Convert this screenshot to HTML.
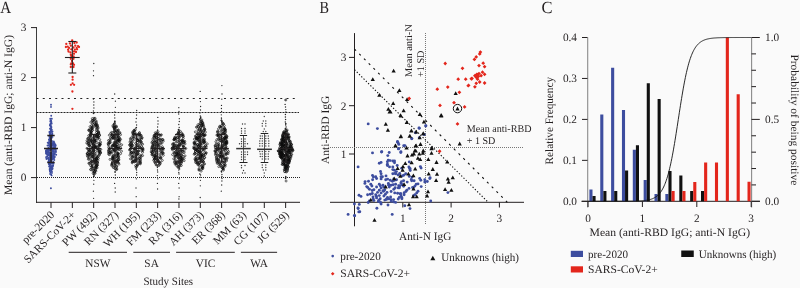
<!DOCTYPE html>
<html><head><meta charset="utf-8"><style>
html,body{margin:0;padding:0;background:#fafafa;width:800px;height:288px;overflow:hidden}
svg{display:block;will-change:transform}
text{font-family:"Liberation Serif",serif;text-rendering:geometricPrecision}
</style></head><body>
<svg width="800" height="288" viewBox="0 0 800 288">
<rect width="800" height="288" fill="#fafafa"/>
<text x="0.20" y="13.20" font-size="17" text-anchor="start" textLength="10.9" lengthAdjust="spacingAndGlyphs" fill="#231f20">A</text>
<line x1="36.50" y1="27.00" x2="36.50" y2="202.80" stroke="#3c3c3c" stroke-width="1.0"/>
<line x1="36.00" y1="202.30" x2="300.00" y2="202.30" stroke="#231f20" stroke-width="1.0"/>
<line x1="31.00" y1="177.60" x2="36.50" y2="177.60" stroke="#231f20" stroke-width="1.0"/>
<text x="26.50" y="181.40" font-size="11.3" text-anchor="end" fill="#231f20">0</text>
<line x1="31.00" y1="127.60" x2="36.50" y2="127.60" stroke="#231f20" stroke-width="1.0"/>
<text x="26.50" y="131.40" font-size="11.3" text-anchor="end" fill="#231f20">1</text>
<line x1="31.00" y1="77.60" x2="36.50" y2="77.60" stroke="#231f20" stroke-width="1.0"/>
<text x="26.50" y="81.40" font-size="11.3" text-anchor="end" fill="#231f20">2</text>
<line x1="31.00" y1="27.60" x2="36.50" y2="27.60" stroke="#231f20" stroke-width="1.0"/>
<text x="26.50" y="31.40" font-size="11.3" text-anchor="end" fill="#231f20">3</text>
<line x1="36.50" y1="98.50" x2="299.00" y2="98.50" stroke="#222" stroke-width="1.0" stroke-dasharray="2,4.25"/>
<line x1="36.50" y1="112.50" x2="299.00" y2="112.50" stroke="#222" stroke-width="1.0" stroke-dasharray="2,1"/>
<line x1="37.00" y1="177.50" x2="301.00" y2="177.50" stroke="#222" stroke-width="1.0" stroke-dasharray="1,1"/>
<line x1="51.00" y1="202.30" x2="51.00" y2="208.00" stroke="#231f20" stroke-width="1.0"/>
<line x1="72.33" y1="202.30" x2="72.33" y2="208.00" stroke="#231f20" stroke-width="1.0"/>
<line x1="93.66" y1="202.30" x2="93.66" y2="208.00" stroke="#231f20" stroke-width="1.0"/>
<line x1="114.99" y1="202.30" x2="114.99" y2="208.00" stroke="#231f20" stroke-width="1.0"/>
<line x1="136.32" y1="202.30" x2="136.32" y2="208.00" stroke="#231f20" stroke-width="1.0"/>
<line x1="157.65" y1="202.30" x2="157.65" y2="208.00" stroke="#231f20" stroke-width="1.0"/>
<line x1="178.98" y1="202.30" x2="178.98" y2="208.00" stroke="#231f20" stroke-width="1.0"/>
<line x1="200.31" y1="202.30" x2="200.31" y2="208.00" stroke="#231f20" stroke-width="1.0"/>
<line x1="221.64" y1="202.30" x2="221.64" y2="208.00" stroke="#231f20" stroke-width="1.0"/>
<line x1="242.97" y1="202.30" x2="242.97" y2="208.00" stroke="#231f20" stroke-width="1.0"/>
<line x1="264.30" y1="202.30" x2="264.30" y2="208.00" stroke="#231f20" stroke-width="1.0"/>
<line x1="285.63" y1="202.30" x2="285.63" y2="208.00" stroke="#231f20" stroke-width="1.0"/>
<text transform="translate(55.00,215.50) rotate(-45)" font-size="11.3" text-anchor="end" fill="#231f20">pre-2020</text>
<text transform="translate(76.33,215.50) rotate(-45)" font-size="11.3" text-anchor="end" fill="#231f20">SARS-CoV-2+</text>
<text transform="translate(97.66,215.50) rotate(-45)" font-size="11.3" text-anchor="end" fill="#231f20">PW (492)</text>
<text transform="translate(118.99,215.50) rotate(-45)" font-size="11.3" text-anchor="end" fill="#231f20">RN (327)</text>
<text transform="translate(140.32,215.50) rotate(-45)" font-size="11.3" text-anchor="end" fill="#231f20">WH (195)</text>
<text transform="translate(161.65,215.50) rotate(-45)" font-size="11.3" text-anchor="end" fill="#231f20">FM (233)</text>
<text transform="translate(182.98,215.50) rotate(-45)" font-size="11.3" text-anchor="end" fill="#231f20">RA (316)</text>
<text transform="translate(204.31,215.50) rotate(-45)" font-size="11.3" text-anchor="end" fill="#231f20">AH (373)</text>
<text transform="translate(225.64,215.50) rotate(-45)" font-size="11.3" text-anchor="end" fill="#231f20">ER (368)</text>
<text transform="translate(246.97,215.50) rotate(-45)" font-size="11.3" text-anchor="end" fill="#231f20">MM (63)</text>
<text transform="translate(268.30,215.50) rotate(-45)" font-size="11.3" text-anchor="end" fill="#231f20">CG (107)</text>
<text transform="translate(289.63,215.50) rotate(-45)" font-size="11.3" text-anchor="end" fill="#231f20">JG (529)</text>
<line x1="68.70" y1="252.30" x2="127.00" y2="252.30" stroke="#231f20" stroke-width="1.0"/>
<text x="97.90" y="266.70" font-size="11.3" text-anchor="middle" fill="#231f20">NSW</text>
<line x1="133.30" y1="252.30" x2="170.00" y2="252.30" stroke="#231f20" stroke-width="1.0"/>
<text x="151.60" y="266.70" font-size="11.3" text-anchor="middle" fill="#231f20">SA</text>
<line x1="176.10" y1="252.30" x2="234.80" y2="252.30" stroke="#231f20" stroke-width="1.0"/>
<text x="205.60" y="266.70" font-size="11.3" text-anchor="middle" fill="#231f20">VIC</text>
<line x1="240.90" y1="252.30" x2="277.10" y2="252.30" stroke="#231f20" stroke-width="1.0"/>
<text x="259.10" y="266.70" font-size="11.3" text-anchor="middle" fill="#231f20">WA</text>
<text x="168.30" y="284.50" font-size="11.3" text-anchor="middle" textLength="49.7" lengthAdjust="spacingAndGlyphs" fill="#231f20">Study Sites</text>
<text transform="translate(12.00,115.00) rotate(-90)" font-size="11.3" text-anchor="middle" textLength="160.0" lengthAdjust="spacingAndGlyphs" fill="#231f20">Mean (anti-RBD IgG; anti-N IgG)</text>
<g fill="#3d4d9f"><circle cx="50.6" cy="120.3" r="0.95"/><circle cx="51.0" cy="120.7" r="0.95"/><circle cx="51.0" cy="121.0" r="0.95"/><circle cx="50.3" cy="121.5" r="0.95"/><circle cx="51.5" cy="122.1" r="0.95"/><circle cx="51.2" cy="123.0" r="0.95"/><circle cx="50.8" cy="123.5" r="0.95"/><circle cx="51.7" cy="123.6" r="0.95"/><circle cx="50.2" cy="124.2" r="0.95"/><circle cx="50.3" cy="124.8" r="0.95"/><circle cx="50.7" cy="125.3" r="0.95"/><circle cx="49.9" cy="125.6" r="0.95"/><circle cx="50.8" cy="126.2" r="0.95"/><circle cx="50.9" cy="126.6" r="0.95"/><circle cx="51.5" cy="127.1" r="0.95"/><circle cx="51.1" cy="127.9" r="0.95"/><circle cx="50.4" cy="128.5" r="0.95"/><circle cx="50.8" cy="128.9" r="0.95"/><circle cx="50.0" cy="128.7" r="0.95"/><circle cx="51.5" cy="129.4" r="0.95"/><circle cx="51.2" cy="129.4" r="0.95"/><circle cx="51.6" cy="129.8" r="0.95"/><circle cx="50.9" cy="130.4" r="0.95"/><circle cx="50.9" cy="130.8" r="0.95"/><circle cx="51.6" cy="131.3" r="0.95"/><circle cx="52.5" cy="131.4" r="0.95"/><circle cx="50.6" cy="131.8" r="0.95"/><circle cx="49.5" cy="131.7" r="0.95"/><circle cx="49.8" cy="132.0" r="0.95"/><circle cx="51.9" cy="132.1" r="0.95"/><circle cx="50.6" cy="132.9" r="0.95"/><circle cx="49.6" cy="132.7" r="0.95"/><circle cx="52.3" cy="133.4" r="0.95"/><circle cx="50.3" cy="133.7" r="0.95"/><circle cx="52.3" cy="134.5" r="0.95"/><circle cx="49.8" cy="134.1" r="0.95"/><circle cx="50.1" cy="134.7" r="0.95"/><circle cx="51.3" cy="134.6" r="0.95"/><circle cx="50.7" cy="135.2" r="0.95"/><circle cx="51.2" cy="135.5" r="0.95"/><circle cx="51.1" cy="135.8" r="0.95"/><circle cx="49.3" cy="136.4" r="0.95"/><circle cx="52.4" cy="136.9" r="0.95"/><circle cx="50.6" cy="137.1" r="0.95"/><circle cx="51.5" cy="137.0" r="0.95"/><circle cx="49.9" cy="137.6" r="0.95"/><circle cx="50.4" cy="137.5" r="0.95"/><circle cx="49.6" cy="138.1" r="0.95"/><circle cx="50.5" cy="138.0" r="0.95"/><circle cx="51.5" cy="138.6" r="0.95"/><circle cx="50.3" cy="139.2" r="0.95"/><circle cx="49.3" cy="139.4" r="0.95"/><circle cx="50.8" cy="139.7" r="0.95"/><circle cx="49.0" cy="139.6" r="0.95"/><circle cx="49.8" cy="140.4" r="0.95"/><circle cx="49.2" cy="140.0" r="0.95"/><circle cx="51.2" cy="140.6" r="0.95"/><circle cx="51.2" cy="140.5" r="0.95"/><circle cx="53.8" cy="141.4" r="0.95"/><circle cx="52.1" cy="141.1" r="0.95"/><circle cx="49.0" cy="141.9" r="0.95"/><circle cx="51.2" cy="141.9" r="0.95"/><circle cx="50.0" cy="141.6" r="0.95"/><circle cx="54.1" cy="142.4" r="0.95"/><circle cx="53.0" cy="142.4" r="0.95"/><circle cx="49.1" cy="142.8" r="0.95"/><circle cx="50.0" cy="142.5" r="0.95"/><circle cx="47.7" cy="142.6" r="0.95"/><circle cx="52.5" cy="143.5" r="0.95"/><circle cx="50.6" cy="143.5" r="0.95"/><circle cx="54.7" cy="143.5" r="0.95"/><circle cx="48.7" cy="143.6" r="0.95"/><circle cx="48.5" cy="143.6" r="0.95"/><circle cx="52.0" cy="144.0" r="0.95"/><circle cx="53.8" cy="143.7" r="0.95"/><circle cx="53.6" cy="144.0" r="0.95"/><circle cx="52.4" cy="144.5" r="0.95"/><circle cx="53.5" cy="144.4" r="0.95"/><circle cx="50.8" cy="144.1" r="0.95"/><circle cx="49.4" cy="144.9" r="0.95"/><circle cx="55.4" cy="144.7" r="0.95"/><circle cx="50.1" cy="145.0" r="0.95"/><circle cx="53.1" cy="144.6" r="0.95"/><circle cx="47.5" cy="145.5" r="0.95"/><circle cx="54.1" cy="145.1" r="0.95"/><circle cx="54.3" cy="145.5" r="0.95"/><circle cx="52.6" cy="145.2" r="0.95"/><circle cx="51.5" cy="145.1" r="0.95"/><circle cx="55.7" cy="145.8" r="0.95"/><circle cx="51.3" cy="146.0" r="0.95"/><circle cx="50.3" cy="145.9" r="0.95"/><circle cx="54.2" cy="145.6" r="0.95"/><circle cx="48.5" cy="145.6" r="0.95"/><circle cx="51.9" cy="146.1" r="0.95"/><circle cx="50.2" cy="146.1" r="0.95"/><circle cx="55.1" cy="146.2" r="0.95"/><circle cx="50.6" cy="146.3" r="0.95"/><circle cx="50.2" cy="147.0" r="0.95"/><circle cx="51.0" cy="146.8" r="0.95"/><circle cx="51.2" cy="146.5" r="0.95"/><circle cx="50.4" cy="146.6" r="0.95"/><circle cx="53.9" cy="147.1" r="0.95"/><circle cx="50.7" cy="147.4" r="0.95"/><circle cx="51.6" cy="147.2" r="0.95"/><circle cx="51.2" cy="147.3" r="0.95"/><circle cx="53.8" cy="147.1" r="0.95"/><circle cx="48.5" cy="147.6" r="0.95"/><circle cx="53.7" cy="147.8" r="0.95"/><circle cx="51.6" cy="147.9" r="0.95"/><circle cx="55.0" cy="147.7" r="0.95"/><circle cx="51.1" cy="148.3" r="0.95"/><circle cx="52.9" cy="148.2" r="0.95"/><circle cx="51.3" cy="148.2" r="0.95"/><circle cx="55.3" cy="148.3" r="0.95"/><circle cx="55.3" cy="148.6" r="0.95"/><circle cx="51.6" cy="149.0" r="0.95"/><circle cx="54.3" cy="148.6" r="0.95"/><circle cx="47.3" cy="148.7" r="0.95"/><circle cx="48.5" cy="149.0" r="0.95"/><circle cx="52.6" cy="149.4" r="0.95"/><circle cx="54.8" cy="149.1" r="0.95"/><circle cx="53.1" cy="149.3" r="0.95"/><circle cx="47.6" cy="149.4" r="0.95"/><circle cx="48.2" cy="150.0" r="0.95"/><circle cx="50.0" cy="149.7" r="0.95"/><circle cx="55.9" cy="149.9" r="0.95"/><circle cx="47.6" cy="149.7" r="0.95"/><circle cx="49.3" cy="150.1" r="0.95"/><circle cx="49.1" cy="150.4" r="0.95"/><circle cx="46.1" cy="150.3" r="0.95"/><circle cx="50.4" cy="150.0" r="0.95"/><circle cx="52.3" cy="150.8" r="0.95"/><circle cx="46.4" cy="151.0" r="0.95"/><circle cx="54.1" cy="151.0" r="0.95"/><circle cx="46.8" cy="150.6" r="0.95"/><circle cx="46.1" cy="150.9" r="0.95"/><circle cx="46.9" cy="151.2" r="0.95"/><circle cx="55.5" cy="151.4" r="0.95"/><circle cx="48.4" cy="151.1" r="0.95"/><circle cx="55.6" cy="151.3" r="0.95"/><circle cx="53.2" cy="151.0" r="0.95"/><circle cx="53.1" cy="151.7" r="0.95"/><circle cx="46.2" cy="152.0" r="0.95"/><circle cx="52.5" cy="151.9" r="0.95"/><circle cx="46.3" cy="151.9" r="0.95"/><circle cx="46.1" cy="151.9" r="0.95"/><circle cx="49.1" cy="152.3" r="0.95"/><circle cx="55.9" cy="152.1" r="0.95"/><circle cx="46.7" cy="152.3" r="0.95"/><circle cx="48.0" cy="152.1" r="0.95"/><circle cx="47.1" cy="152.0" r="0.95"/><circle cx="48.8" cy="152.7" r="0.95"/><circle cx="54.0" cy="152.6" r="0.95"/><circle cx="51.0" cy="152.6" r="0.95"/><circle cx="49.2" cy="152.5" r="0.95"/><circle cx="48.1" cy="152.5" r="0.95"/><circle cx="51.6" cy="153.1" r="0.95"/><circle cx="50.7" cy="153.5" r="0.95"/><circle cx="46.5" cy="153.4" r="0.95"/><circle cx="50.2" cy="153.2" r="0.95"/><circle cx="54.8" cy="153.2" r="0.95"/><circle cx="53.1" cy="154.0" r="0.95"/><circle cx="49.2" cy="153.9" r="0.95"/><circle cx="53.3" cy="153.8" r="0.95"/><circle cx="49.9" cy="153.7" r="0.95"/><circle cx="46.0" cy="153.6" r="0.95"/><circle cx="53.7" cy="154.1" r="0.95"/><circle cx="47.2" cy="154.0" r="0.95"/><circle cx="54.8" cy="154.4" r="0.95"/><circle cx="52.9" cy="154.1" r="0.95"/><circle cx="48.1" cy="154.1" r="0.95"/><circle cx="47.2" cy="154.7" r="0.95"/><circle cx="48.4" cy="155.0" r="0.95"/><circle cx="56.2" cy="154.8" r="0.95"/><circle cx="48.2" cy="155.0" r="0.95"/><circle cx="48.9" cy="154.7" r="0.95"/><circle cx="49.7" cy="155.2" r="0.95"/><circle cx="51.0" cy="155.1" r="0.95"/><circle cx="51.1" cy="155.0" r="0.95"/><circle cx="48.4" cy="155.0" r="0.95"/><circle cx="49.9" cy="155.0" r="0.95"/><circle cx="48.9" cy="155.6" r="0.95"/><circle cx="51.9" cy="155.8" r="0.95"/><circle cx="53.7" cy="155.8" r="0.95"/><circle cx="53.4" cy="155.9" r="0.95"/><circle cx="49.8" cy="155.7" r="0.95"/><circle cx="47.2" cy="156.4" r="0.95"/><circle cx="52.5" cy="156.0" r="0.95"/><circle cx="54.6" cy="156.4" r="0.95"/><circle cx="52.4" cy="156.4" r="0.95"/><circle cx="47.1" cy="156.8" r="0.95"/><circle cx="51.0" cy="156.9" r="0.95"/><circle cx="54.3" cy="156.9" r="0.95"/><circle cx="51.9" cy="156.9" r="0.95"/><circle cx="53.0" cy="157.1" r="0.95"/><circle cx="46.0" cy="157.1" r="0.95"/><circle cx="49.5" cy="157.1" r="0.95"/><circle cx="54.6" cy="157.3" r="0.95"/><circle cx="52.3" cy="157.8" r="0.95"/><circle cx="50.9" cy="157.5" r="0.95"/><circle cx="54.1" cy="157.9" r="0.95"/><circle cx="51.0" cy="157.8" r="0.95"/><circle cx="46.5" cy="158.4" r="0.95"/><circle cx="48.4" cy="158.0" r="0.95"/><circle cx="48.6" cy="158.4" r="0.95"/><circle cx="47.9" cy="158.4" r="0.95"/><circle cx="50.9" cy="158.7" r="0.95"/><circle cx="50.8" cy="158.8" r="0.95"/><circle cx="53.6" cy="158.8" r="0.95"/><circle cx="52.4" cy="158.5" r="0.95"/><circle cx="48.8" cy="159.4" r="0.95"/><circle cx="49.3" cy="159.3" r="0.95"/><circle cx="46.6" cy="159.0" r="0.95"/><circle cx="48.9" cy="159.3" r="0.95"/><circle cx="52.4" cy="159.6" r="0.95"/><circle cx="51.1" cy="159.7" r="0.95"/><circle cx="50.7" cy="159.6" r="0.95"/><circle cx="48.8" cy="160.5" r="0.95"/><circle cx="54.3" cy="160.0" r="0.95"/><circle cx="50.7" cy="160.4" r="0.95"/><circle cx="50.7" cy="160.6" r="0.95"/><circle cx="49.0" cy="161.0" r="0.95"/><circle cx="51.5" cy="161.1" r="0.95"/><circle cx="51.1" cy="161.5" r="0.95"/><circle cx="48.8" cy="161.4" r="0.95"/><circle cx="53.2" cy="161.9" r="0.95"/><circle cx="49.4" cy="161.9" r="0.95"/><circle cx="48.3" cy="162.0" r="0.95"/><circle cx="51.0" cy="162.2" r="0.95"/><circle cx="49.1" cy="162.7" r="0.95"/><circle cx="50.0" cy="162.9" r="0.95"/><circle cx="52.3" cy="163.4" r="0.95"/><circle cx="49.0" cy="163.5" r="0.95"/><circle cx="52.1" cy="163.5" r="0.95"/><circle cx="50.4" cy="163.7" r="0.95"/><circle cx="53.5" cy="163.8" r="0.95"/><circle cx="50.7" cy="164.1" r="0.95"/><circle cx="48.8" cy="164.1" r="0.95"/><circle cx="50.0" cy="165.0" r="0.95"/><circle cx="49.8" cy="164.6" r="0.95"/><circle cx="49.6" cy="165.2" r="0.95"/><circle cx="53.1" cy="165.4" r="0.95"/><circle cx="51.6" cy="166.0" r="0.95"/><circle cx="52.9" cy="165.8" r="0.95"/><circle cx="49.1" cy="166.4" r="0.95"/><circle cx="50.8" cy="166.4" r="0.95"/><circle cx="50.1" cy="166.5" r="0.95"/><circle cx="52.7" cy="166.6" r="0.95"/><circle cx="50.4" cy="167.1" r="0.95"/><circle cx="51.9" cy="167.5" r="0.95"/><circle cx="51.6" cy="167.7" r="0.95"/><circle cx="51.2" cy="167.7" r="0.95"/><circle cx="49.8" cy="168.1" r="0.95"/><circle cx="52.5" cy="168.2" r="0.95"/><circle cx="52.4" cy="169.0" r="0.95"/><circle cx="50.8" cy="168.6" r="0.95"/><circle cx="49.7" cy="169.2" r="0.95"/><circle cx="49.7" cy="169.1" r="0.95"/><circle cx="51.2" cy="169.9" r="0.95"/><circle cx="51.8" cy="169.7" r="0.95"/><circle cx="51.1" cy="170.2" r="0.95"/><circle cx="49.8" cy="170.6" r="0.95"/><circle cx="50.0" cy="171.3" r="0.95"/><circle cx="51.9" cy="171.6" r="0.95"/><circle cx="50.4" cy="172.2" r="0.95"/><circle cx="51.9" cy="172.9" r="0.95"/><circle cx="50.1" cy="173.9" r="0.95"/><circle cx="51.1" cy="174.5" r="0.95"/><circle cx="51.6" cy="175.4" r="0.95"/><circle cx="51.0" cy="104.8" r="0.95"/><circle cx="51.0" cy="106.9" r="0.95"/><circle cx="51.2" cy="115.7" r="0.95"/><circle cx="50.2" cy="118.8" r="0.95"/><circle cx="51.8" cy="118.8" r="0.95"/><circle cx="51.0" cy="120.9" r="0.95"/><circle cx="50.9" cy="188.2" r="0.95"/></g>
<g fill="#e3261c"><circle cx="72.2" cy="40.3" r="1.15"/><circle cx="66.3" cy="43.9" r="1.15"/><circle cx="69.9" cy="43.4" r="1.15"/><circle cx="74.4" cy="43.0" r="1.15"/><circle cx="76.7" cy="42.5" r="1.15"/><circle cx="67.7" cy="46.6" r="1.15"/><circle cx="70.8" cy="45.7" r="1.15"/><circle cx="75.3" cy="45.7" r="1.15"/><circle cx="78.0" cy="46.1" r="1.15"/><circle cx="65.9" cy="47.0" r="1.15"/><circle cx="69.0" cy="47.9" r="1.15"/><circle cx="73.5" cy="47.5" r="1.15"/><circle cx="76.7" cy="47.9" r="1.15"/><circle cx="79.0" cy="47.0" r="1.15"/><circle cx="68.1" cy="49.7" r="1.15"/><circle cx="71.3" cy="49.3" r="1.15"/><circle cx="74.9" cy="49.7" r="1.15"/><circle cx="77.1" cy="49.3" r="1.15"/><circle cx="70.4" cy="52.4" r="1.15"/><circle cx="74.0" cy="51.5" r="1.15"/><circle cx="70.8" cy="54.7" r="1.15"/><circle cx="74.0" cy="53.8" r="1.15"/><circle cx="71.3" cy="56.0" r="1.15"/><circle cx="73.6" cy="56.5" r="1.15"/><circle cx="70.8" cy="58.8" r="1.15"/><circle cx="73.5" cy="58.8" r="1.15"/><circle cx="71.3" cy="63.3" r="1.15"/><circle cx="73.1" cy="63.3" r="1.15"/><circle cx="70.8" cy="64.3" r="1.15"/><circle cx="74.0" cy="64.8" r="1.15"/><circle cx="70.8" cy="67.0" r="1.15"/><circle cx="73.5" cy="67.0" r="1.15"/><circle cx="72.6" cy="77.0" r="1.15"/><circle cx="72.6" cy="79.7" r="1.15"/><circle cx="72.6" cy="83.3" r="1.15"/><circle cx="70.9" cy="84.8" r="1.15"/><circle cx="74.1" cy="84.8" r="1.15"/><circle cx="72.4" cy="91.5" r="1.15"/><circle cx="72.4" cy="108.8" r="1.15"/><circle cx="72.0" cy="61.0" r="1.15"/><circle cx="68.5" cy="51.5" r="1.15"/><circle cx="76.0" cy="52.0" r="1.15"/></g>
<line x1="51.00" y1="135.50" x2="51.00" y2="162.50" stroke="#231f20" stroke-width="1.5"/>
<line x1="44.00" y1="148.50" x2="58.00" y2="148.50" stroke="#231f20" stroke-width="1.5"/>
<line x1="47.30" y1="135.50" x2="54.70" y2="135.50" stroke="#231f20" stroke-width="1.5"/>
<line x1="47.30" y1="162.50" x2="54.70" y2="162.50" stroke="#231f20" stroke-width="1.5"/>
<line x1="72.33" y1="41.50" x2="72.33" y2="73.00" stroke="#231f20" stroke-width="1.1"/>
<line x1="64.93" y1="57.50" x2="79.73" y2="57.50" stroke="#231f20" stroke-width="1.1"/>
<line x1="68.33" y1="41.50" x2="76.33" y2="41.50" stroke="#231f20" stroke-width="1.1"/>
<line x1="68.33" y1="73.00" x2="76.33" y2="73.00" stroke="#231f20" stroke-width="1.1"/>
<g fill="none" stroke="#0c0c0c" stroke-width="0.6"><circle cx="95.1" cy="118.3" r="1.0"/><circle cx="92.3" cy="118.6" r="1.0"/><circle cx="94.5" cy="119.1" r="1.0"/><circle cx="93.8" cy="119.8" r="1.0"/><circle cx="92.4" cy="120.3" r="1.0"/><circle cx="92.7" cy="120.7" r="1.0"/><circle cx="96.0" cy="120.8" r="1.0"/><circle cx="93.5" cy="121.1" r="1.0"/><circle cx="96.3" cy="121.9" r="1.0"/><circle cx="90.8" cy="122.2" r="1.0"/><circle cx="93.2" cy="122.6" r="1.0"/><circle cx="96.4" cy="123.1" r="1.0"/><circle cx="92.6" cy="123.7" r="1.0"/><circle cx="94.9" cy="123.6" r="1.0"/><circle cx="95.4" cy="124.3" r="1.0"/><circle cx="97.1" cy="124.7" r="1.0"/><circle cx="96.0" cy="124.6" r="1.0"/><circle cx="95.6" cy="125.1" r="1.0"/><circle cx="97.1" cy="125.2" r="1.0"/><circle cx="91.5" cy="125.7" r="1.0"/><circle cx="95.0" cy="126.0" r="1.0"/><circle cx="92.8" cy="126.1" r="1.0"/><circle cx="97.5" cy="126.1" r="1.0"/><circle cx="90.0" cy="126.7" r="1.0"/><circle cx="97.0" cy="126.9" r="1.0"/><circle cx="98.0" cy="127.5" r="1.0"/><circle cx="92.2" cy="127.1" r="1.0"/><circle cx="95.9" cy="127.5" r="1.0"/><circle cx="92.5" cy="128.2" r="1.0"/><circle cx="92.1" cy="128.1" r="1.0"/><circle cx="91.6" cy="128.7" r="1.0"/><circle cx="97.9" cy="128.6" r="1.0"/><circle cx="90.8" cy="129.2" r="1.0"/><circle cx="96.8" cy="129.4" r="1.0"/><circle cx="89.2" cy="129.7" r="1.0"/><circle cx="92.4" cy="130.0" r="1.0"/><circle cx="92.3" cy="130.4" r="1.0"/><circle cx="88.9" cy="130.2" r="1.0"/><circle cx="96.4" cy="130.5" r="1.0"/><circle cx="88.9" cy="130.5" r="1.0"/><circle cx="91.1" cy="131.4" r="1.0"/><circle cx="97.9" cy="131.2" r="1.0"/><circle cx="98.6" cy="131.8" r="1.0"/><circle cx="91.1" cy="131.9" r="1.0"/><circle cx="91.2" cy="132.0" r="1.0"/><circle cx="96.5" cy="132.5" r="1.0"/><circle cx="98.6" cy="132.5" r="1.0"/><circle cx="90.7" cy="132.7" r="1.0"/><circle cx="98.8" cy="133.2" r="1.0"/><circle cx="90.8" cy="133.2" r="1.0"/><circle cx="98.6" cy="133.6" r="1.0"/><circle cx="97.2" cy="133.9" r="1.0"/><circle cx="96.9" cy="134.3" r="1.0"/><circle cx="91.6" cy="134.2" r="1.0"/><circle cx="97.0" cy="134.5" r="1.0"/><circle cx="90.0" cy="134.9" r="1.0"/><circle cx="90.6" cy="134.5" r="1.0"/><circle cx="94.3" cy="135.2" r="1.0"/><circle cx="99.5" cy="135.4" r="1.0"/><circle cx="99.6" cy="135.1" r="1.0"/><circle cx="88.7" cy="135.7" r="1.0"/><circle cx="96.2" cy="135.7" r="1.0"/><circle cx="90.4" cy="135.7" r="1.0"/><circle cx="95.8" cy="136.4" r="1.0"/><circle cx="98.0" cy="136.3" r="1.0"/><circle cx="98.0" cy="136.6" r="1.0"/><circle cx="94.5" cy="136.7" r="1.0"/><circle cx="96.7" cy="136.6" r="1.0"/><circle cx="90.4" cy="137.1" r="1.0"/><circle cx="98.6" cy="137.3" r="1.0"/><circle cx="91.4" cy="137.2" r="1.0"/><circle cx="93.8" cy="137.6" r="1.0"/><circle cx="97.6" cy="137.8" r="1.0"/><circle cx="88.5" cy="138.2" r="1.0"/><circle cx="97.8" cy="138.4" r="1.0"/><circle cx="87.6" cy="138.6" r="1.0"/><circle cx="88.6" cy="138.6" r="1.0"/><circle cx="94.8" cy="139.5" r="1.0"/><circle cx="92.0" cy="139.4" r="1.0"/><circle cx="90.4" cy="139.9" r="1.0"/><circle cx="99.7" cy="139.6" r="1.0"/><circle cx="95.0" cy="139.8" r="1.0"/><circle cx="91.9" cy="140.1" r="1.0"/><circle cx="89.6" cy="140.1" r="1.0"/><circle cx="95.0" cy="140.3" r="1.0"/><circle cx="87.0" cy="140.7" r="1.0"/><circle cx="96.1" cy="140.6" r="1.0"/><circle cx="91.1" cy="140.6" r="1.0"/><circle cx="94.3" cy="141.0" r="1.0"/><circle cx="88.1" cy="141.2" r="1.0"/><circle cx="94.4" cy="141.3" r="1.0"/><circle cx="89.0" cy="141.8" r="1.0"/><circle cx="92.4" cy="141.6" r="1.0"/><circle cx="91.0" cy="142.0" r="1.0"/><circle cx="94.6" cy="142.2" r="1.0"/><circle cx="92.5" cy="142.4" r="1.0"/><circle cx="100.6" cy="142.2" r="1.0"/><circle cx="96.9" cy="142.6" r="1.0"/><circle cx="86.7" cy="143.0" r="1.0"/><circle cx="92.6" cy="142.9" r="1.0"/><circle cx="99.1" cy="143.2" r="1.0"/><circle cx="88.9" cy="143.0" r="1.0"/><circle cx="94.4" cy="143.3" r="1.0"/><circle cx="87.8" cy="143.8" r="1.0"/><circle cx="91.8" cy="143.8" r="1.0"/><circle cx="88.6" cy="143.6" r="1.0"/><circle cx="99.8" cy="144.1" r="1.0"/><circle cx="93.5" cy="144.4" r="1.0"/><circle cx="100.4" cy="144.1" r="1.0"/><circle cx="100.1" cy="145.0" r="1.0"/><circle cx="93.4" cy="144.5" r="1.0"/><circle cx="99.8" cy="144.7" r="1.0"/><circle cx="95.4" cy="145.4" r="1.0"/><circle cx="88.7" cy="145.4" r="1.0"/><circle cx="89.6" cy="145.2" r="1.0"/><circle cx="98.4" cy="145.6" r="1.0"/><circle cx="89.6" cy="145.7" r="1.0"/><circle cx="93.9" cy="145.7" r="1.0"/><circle cx="90.0" cy="146.4" r="1.0"/><circle cx="99.4" cy="146.0" r="1.0"/><circle cx="94.6" cy="146.4" r="1.0"/><circle cx="98.6" cy="146.6" r="1.0"/><circle cx="95.1" cy="146.8" r="1.0"/><circle cx="95.5" cy="146.7" r="1.0"/><circle cx="92.5" cy="146.8" r="1.0"/><circle cx="96.0" cy="147.2" r="1.0"/><circle cx="92.8" cy="147.0" r="1.0"/><circle cx="95.4" cy="147.2" r="1.0"/><circle cx="97.5" cy="147.9" r="1.0"/><circle cx="93.1" cy="147.6" r="1.0"/><circle cx="93.3" cy="147.6" r="1.0"/><circle cx="92.6" cy="148.0" r="1.0"/><circle cx="92.8" cy="148.3" r="1.0"/><circle cx="87.0" cy="148.3" r="1.0"/><circle cx="97.0" cy="148.9" r="1.0"/><circle cx="93.8" cy="148.5" r="1.0"/><circle cx="93.7" cy="148.7" r="1.0"/><circle cx="88.4" cy="149.4" r="1.0"/><circle cx="100.8" cy="149.4" r="1.0"/><circle cx="98.2" cy="149.1" r="1.0"/><circle cx="93.5" cy="150.0" r="1.0"/><circle cx="99.7" cy="149.6" r="1.0"/><circle cx="97.8" cy="150.0" r="1.0"/><circle cx="91.5" cy="150.4" r="1.0"/><circle cx="88.8" cy="150.4" r="1.0"/><circle cx="90.4" cy="150.4" r="1.0"/><circle cx="93.7" cy="151.0" r="1.0"/><circle cx="89.5" cy="150.6" r="1.0"/><circle cx="93.7" cy="150.7" r="1.0"/><circle cx="89.2" cy="151.1" r="1.0"/><circle cx="99.8" cy="151.3" r="1.0"/><circle cx="99.3" cy="151.1" r="1.0"/><circle cx="88.3" cy="151.8" r="1.0"/><circle cx="95.6" cy="151.7" r="1.0"/><circle cx="98.9" cy="151.8" r="1.0"/><circle cx="99.0" cy="152.1" r="1.0"/><circle cx="100.5" cy="152.3" r="1.0"/><circle cx="92.2" cy="152.4" r="1.0"/><circle cx="100.4" cy="152.8" r="1.0"/><circle cx="91.7" cy="152.9" r="1.0"/><circle cx="92.9" cy="152.6" r="1.0"/><circle cx="87.5" cy="153.4" r="1.0"/><circle cx="90.3" cy="153.3" r="1.0"/><circle cx="100.3" cy="153.3" r="1.0"/><circle cx="91.1" cy="153.5" r="1.0"/><circle cx="87.3" cy="153.6" r="1.0"/><circle cx="95.2" cy="153.7" r="1.0"/><circle cx="99.0" cy="154.1" r="1.0"/><circle cx="90.0" cy="154.3" r="1.0"/><circle cx="87.2" cy="154.0" r="1.0"/><circle cx="88.4" cy="154.7" r="1.0"/><circle cx="90.0" cy="154.8" r="1.0"/><circle cx="94.8" cy="154.6" r="1.0"/><circle cx="93.3" cy="155.1" r="1.0"/><circle cx="99.4" cy="155.1" r="1.0"/><circle cx="89.1" cy="155.0" r="1.0"/><circle cx="98.5" cy="155.9" r="1.0"/><circle cx="92.4" cy="155.6" r="1.0"/><circle cx="87.3" cy="155.8" r="1.0"/><circle cx="91.7" cy="156.3" r="1.0"/><circle cx="92.9" cy="156.5" r="1.0"/><circle cx="96.7" cy="156.1" r="1.0"/><circle cx="87.9" cy="156.8" r="1.0"/><circle cx="92.5" cy="156.6" r="1.0"/><circle cx="97.1" cy="157.0" r="1.0"/><circle cx="94.3" cy="157.5" r="1.0"/><circle cx="89.2" cy="157.1" r="1.0"/><circle cx="93.7" cy="157.8" r="1.0"/><circle cx="97.5" cy="157.6" r="1.0"/><circle cx="91.2" cy="158.0" r="1.0"/><circle cx="98.4" cy="158.4" r="1.0"/><circle cx="96.3" cy="158.0" r="1.0"/><circle cx="96.6" cy="158.7" r="1.0"/><circle cx="96.5" cy="158.7" r="1.0"/><circle cx="89.0" cy="159.1" r="1.0"/><circle cx="88.3" cy="159.2" r="1.0"/><circle cx="96.6" cy="159.3" r="1.0"/><circle cx="96.1" cy="159.6" r="1.0"/><circle cx="94.3" cy="159.7" r="1.0"/><circle cx="93.9" cy="160.1" r="1.0"/><circle cx="95.3" cy="160.5" r="1.0"/><circle cx="97.9" cy="160.5" r="1.0"/><circle cx="91.0" cy="160.6" r="1.0"/><circle cx="96.4" cy="161.0" r="1.0"/><circle cx="91.8" cy="161.4" r="1.0"/><circle cx="91.8" cy="161.1" r="1.0"/><circle cx="95.0" cy="161.8" r="1.0"/><circle cx="95.4" cy="162.0" r="1.0"/><circle cx="97.2" cy="162.3" r="1.0"/><circle cx="97.4" cy="162.2" r="1.0"/><circle cx="94.4" cy="162.7" r="1.0"/><circle cx="90.7" cy="162.8" r="1.0"/><circle cx="97.7" cy="163.1" r="1.0"/><circle cx="89.0" cy="163.1" r="1.0"/><circle cx="92.2" cy="163.6" r="1.0"/><circle cx="89.1" cy="163.5" r="1.0"/><circle cx="94.9" cy="164.3" r="1.0"/><circle cx="95.9" cy="164.0" r="1.0"/><circle cx="92.4" cy="164.9" r="1.0"/><circle cx="96.6" cy="164.9" r="1.0"/><circle cx="96.9" cy="165.5" r="1.0"/><circle cx="97.6" cy="165.1" r="1.0"/><circle cx="90.4" cy="165.5" r="1.0"/><circle cx="96.6" cy="165.9" r="1.0"/><circle cx="96.3" cy="166.3" r="1.0"/><circle cx="91.9" cy="166.0" r="1.0"/><circle cx="95.7" cy="166.6" r="1.0"/><circle cx="92.2" cy="166.7" r="1.0"/><circle cx="91.8" cy="167.1" r="1.0"/><circle cx="95.3" cy="167.2" r="1.0"/><circle cx="97.1" cy="167.8" r="1.0"/><circle cx="96.3" cy="167.8" r="1.0"/><circle cx="93.0" cy="168.2" r="1.0"/><circle cx="95.6" cy="168.2" r="1.0"/><circle cx="93.9" cy="168.6" r="1.0"/><circle cx="91.0" cy="169.4" r="1.0"/><circle cx="90.6" cy="169.6" r="1.0"/><circle cx="95.3" cy="170.0" r="1.0"/><circle cx="93.6" cy="170.2" r="1.0"/><circle cx="95.4" cy="170.1" r="1.0"/><circle cx="92.8" cy="170.9" r="1.0"/><circle cx="95.9" cy="171.1" r="1.0"/><circle cx="94.6" cy="171.7" r="1.0"/><circle cx="94.3" cy="172.0" r="1.0"/><circle cx="94.5" cy="172.9" r="1.0"/><circle cx="93.1" cy="173.2" r="1.0"/><circle cx="95.0" cy="173.5" r="1.0"/></g>
<g fill="#222"><circle cx="93.8" cy="63.5" r="0.65"/><circle cx="93.5" cy="70.8" r="0.65"/><circle cx="93.5" cy="75.7" r="0.65"/><circle cx="93.4" cy="99.0" r="0.65"/><circle cx="93.9" cy="102.0" r="0.65"/><circle cx="93.8" cy="105.0" r="0.65"/><circle cx="93.9" cy="108.0" r="0.65"/><circle cx="93.4" cy="111.0" r="0.65"/><circle cx="93.6" cy="113.0" r="0.65"/><circle cx="93.9" cy="180.3" r="0.65"/><circle cx="93.7" cy="184.2" r="0.65"/><circle cx="93.4" cy="191.2" r="0.65"/><circle cx="93.6" cy="198.3" r="0.65"/></g>
<g fill="none" stroke="#0c0c0c" stroke-width="0.6"><circle cx="114.4" cy="123.8" r="1.0"/><circle cx="114.3" cy="124.1" r="1.0"/><circle cx="113.0" cy="125.5" r="1.0"/><circle cx="114.4" cy="126.0" r="1.0"/><circle cx="116.4" cy="126.2" r="1.0"/><circle cx="115.9" cy="126.6" r="1.0"/><circle cx="113.1" cy="126.7" r="1.0"/><circle cx="114.3" cy="127.4" r="1.0"/><circle cx="116.3" cy="127.3" r="1.0"/><circle cx="114.7" cy="127.6" r="1.0"/><circle cx="114.3" cy="128.4" r="1.0"/><circle cx="114.4" cy="128.8" r="1.0"/><circle cx="114.3" cy="129.1" r="1.0"/><circle cx="118.3" cy="129.9" r="1.0"/><circle cx="118.1" cy="130.3" r="1.0"/><circle cx="114.6" cy="130.7" r="1.0"/><circle cx="116.2" cy="130.5" r="1.0"/><circle cx="117.7" cy="131.4" r="1.0"/><circle cx="116.2" cy="131.1" r="1.0"/><circle cx="114.5" cy="131.8" r="1.0"/><circle cx="114.1" cy="131.8" r="1.0"/><circle cx="111.8" cy="132.3" r="1.0"/><circle cx="117.8" cy="132.2" r="1.0"/><circle cx="119.9" cy="132.5" r="1.0"/><circle cx="115.4" cy="132.6" r="1.0"/><circle cx="119.7" cy="133.3" r="1.0"/><circle cx="110.7" cy="133.3" r="1.0"/><circle cx="117.4" cy="133.8" r="1.0"/><circle cx="116.5" cy="133.9" r="1.0"/><circle cx="114.0" cy="134.5" r="1.0"/><circle cx="111.7" cy="134.3" r="1.0"/><circle cx="118.0" cy="134.6" r="1.0"/><circle cx="120.5" cy="134.7" r="1.0"/><circle cx="112.4" cy="135.2" r="1.0"/><circle cx="109.3" cy="135.2" r="1.0"/><circle cx="114.1" cy="135.3" r="1.0"/><circle cx="112.2" cy="135.6" r="1.0"/><circle cx="117.9" cy="136.0" r="1.0"/><circle cx="111.6" cy="136.4" r="1.0"/><circle cx="113.7" cy="136.1" r="1.0"/><circle cx="118.4" cy="136.9" r="1.0"/><circle cx="116.6" cy="136.7" r="1.0"/><circle cx="115.8" cy="136.6" r="1.0"/><circle cx="113.2" cy="137.3" r="1.0"/><circle cx="119.0" cy="137.4" r="1.0"/><circle cx="112.4" cy="137.8" r="1.0"/><circle cx="110.3" cy="137.9" r="1.0"/><circle cx="119.5" cy="138.1" r="1.0"/><circle cx="113.4" cy="138.1" r="1.0"/><circle cx="114.0" cy="138.1" r="1.0"/><circle cx="117.9" cy="138.6" r="1.0"/><circle cx="111.7" cy="138.7" r="1.0"/><circle cx="114.7" cy="138.7" r="1.0"/><circle cx="117.1" cy="139.2" r="1.0"/><circle cx="120.6" cy="139.4" r="1.0"/><circle cx="119.3" cy="140.0" r="1.0"/><circle cx="118.7" cy="139.6" r="1.0"/><circle cx="119.4" cy="139.8" r="1.0"/><circle cx="108.5" cy="140.5" r="1.0"/><circle cx="117.1" cy="140.1" r="1.0"/><circle cx="109.7" cy="140.1" r="1.0"/><circle cx="118.7" cy="140.7" r="1.0"/><circle cx="110.3" cy="141.0" r="1.0"/><circle cx="118.9" cy="140.6" r="1.0"/><circle cx="116.5" cy="141.4" r="1.0"/><circle cx="117.3" cy="141.4" r="1.0"/><circle cx="119.6" cy="141.6" r="1.0"/><circle cx="117.6" cy="141.8" r="1.0"/><circle cx="114.1" cy="142.4" r="1.0"/><circle cx="115.7" cy="142.1" r="1.0"/><circle cx="110.0" cy="142.7" r="1.0"/><circle cx="108.9" cy="142.7" r="1.0"/><circle cx="110.1" cy="142.7" r="1.0"/><circle cx="115.5" cy="143.4" r="1.0"/><circle cx="108.2" cy="143.4" r="1.0"/><circle cx="114.5" cy="143.3" r="1.0"/><circle cx="119.7" cy="143.7" r="1.0"/><circle cx="113.9" cy="144.0" r="1.0"/><circle cx="116.9" cy="144.3" r="1.0"/><circle cx="108.4" cy="144.3" r="1.0"/><circle cx="117.5" cy="144.5" r="1.0"/><circle cx="121.7" cy="144.8" r="1.0"/><circle cx="114.8" cy="144.9" r="1.0"/><circle cx="108.5" cy="144.9" r="1.0"/><circle cx="112.7" cy="145.4" r="1.0"/><circle cx="113.1" cy="145.2" r="1.0"/><circle cx="115.3" cy="145.4" r="1.0"/><circle cx="114.1" cy="145.7" r="1.0"/><circle cx="115.7" cy="145.9" r="1.0"/><circle cx="112.1" cy="145.9" r="1.0"/><circle cx="115.0" cy="146.1" r="1.0"/><circle cx="115.1" cy="146.5" r="1.0"/><circle cx="117.2" cy="146.4" r="1.0"/><circle cx="112.4" cy="146.6" r="1.0"/><circle cx="116.2" cy="146.8" r="1.0"/><circle cx="119.0" cy="146.5" r="1.0"/><circle cx="120.4" cy="147.3" r="1.0"/><circle cx="108.7" cy="147.2" r="1.0"/><circle cx="110.7" cy="148.0" r="1.0"/><circle cx="116.5" cy="147.8" r="1.0"/><circle cx="119.0" cy="148.0" r="1.0"/><circle cx="116.6" cy="148.3" r="1.0"/><circle cx="117.7" cy="148.3" r="1.0"/><circle cx="117.5" cy="148.1" r="1.0"/><circle cx="114.4" cy="148.9" r="1.0"/><circle cx="109.5" cy="148.6" r="1.0"/><circle cx="118.8" cy="149.5" r="1.0"/><circle cx="117.1" cy="149.2" r="1.0"/><circle cx="119.5" cy="149.4" r="1.0"/><circle cx="111.7" cy="149.7" r="1.0"/><circle cx="113.9" cy="149.7" r="1.0"/><circle cx="114.0" cy="149.8" r="1.0"/><circle cx="108.9" cy="150.3" r="1.0"/><circle cx="108.7" cy="150.1" r="1.0"/><circle cx="116.0" cy="151.0" r="1.0"/><circle cx="114.3" cy="150.5" r="1.0"/><circle cx="116.2" cy="151.5" r="1.0"/><circle cx="121.5" cy="151.2" r="1.0"/><circle cx="113.8" cy="151.1" r="1.0"/><circle cx="111.1" cy="151.6" r="1.0"/><circle cx="108.5" cy="151.5" r="1.0"/><circle cx="109.9" cy="152.5" r="1.0"/><circle cx="109.5" cy="152.4" r="1.0"/><circle cx="108.6" cy="152.9" r="1.0"/><circle cx="111.6" cy="152.9" r="1.0"/><circle cx="110.8" cy="152.5" r="1.0"/><circle cx="117.8" cy="153.4" r="1.0"/><circle cx="118.0" cy="153.0" r="1.0"/><circle cx="117.7" cy="153.7" r="1.0"/><circle cx="120.6" cy="153.6" r="1.0"/><circle cx="117.8" cy="154.0" r="1.0"/><circle cx="108.7" cy="154.3" r="1.0"/><circle cx="109.6" cy="154.7" r="1.0"/><circle cx="117.9" cy="154.6" r="1.0"/><circle cx="114.8" cy="155.0" r="1.0"/><circle cx="113.3" cy="155.3" r="1.0"/><circle cx="117.2" cy="155.6" r="1.0"/><circle cx="118.7" cy="155.7" r="1.0"/><circle cx="116.6" cy="156.2" r="1.0"/><circle cx="113.6" cy="156.4" r="1.0"/><circle cx="118.4" cy="156.8" r="1.0"/><circle cx="112.5" cy="156.5" r="1.0"/><circle cx="117.4" cy="157.4" r="1.0"/><circle cx="113.0" cy="157.3" r="1.0"/><circle cx="118.8" cy="157.8" r="1.0"/><circle cx="112.8" cy="157.7" r="1.0"/><circle cx="113.6" cy="158.3" r="1.0"/><circle cx="116.2" cy="158.4" r="1.0"/><circle cx="112.6" cy="158.5" r="1.0"/><circle cx="112.3" cy="158.7" r="1.0"/><circle cx="118.5" cy="159.4" r="1.0"/><circle cx="110.0" cy="159.4" r="1.0"/><circle cx="118.9" cy="159.8" r="1.0"/><circle cx="112.6" cy="159.9" r="1.0"/><circle cx="116.9" cy="160.5" r="1.0"/><circle cx="113.4" cy="160.0" r="1.0"/><circle cx="118.0" cy="160.6" r="1.0"/><circle cx="117.5" cy="161.0" r="1.0"/><circle cx="116.1" cy="161.3" r="1.0"/><circle cx="114.6" cy="161.1" r="1.0"/><circle cx="117.4" cy="161.9" r="1.0"/><circle cx="114.6" cy="161.5" r="1.0"/><circle cx="117.5" cy="162.1" r="1.0"/><circle cx="118.6" cy="162.9" r="1.0"/><circle cx="115.2" cy="162.7" r="1.0"/><circle cx="112.3" cy="163.1" r="1.0"/><circle cx="112.2" cy="163.4" r="1.0"/><circle cx="115.5" cy="163.7" r="1.0"/><circle cx="115.1" cy="163.6" r="1.0"/><circle cx="119.0" cy="164.2" r="1.0"/><circle cx="111.8" cy="164.3" r="1.0"/><circle cx="112.3" cy="164.8" r="1.0"/><circle cx="115.1" cy="165.0" r="1.0"/><circle cx="111.6" cy="165.5" r="1.0"/><circle cx="114.9" cy="165.8" r="1.0"/><circle cx="116.8" cy="166.2" r="1.0"/><circle cx="116.6" cy="166.9" r="1.0"/><circle cx="113.6" cy="167.0" r="1.0"/><circle cx="113.3" cy="167.5" r="1.0"/><circle cx="115.3" cy="168.4" r="1.0"/><circle cx="116.9" cy="169.0" r="1.0"/><circle cx="115.4" cy="169.2" r="1.0"/><circle cx="116.5" cy="169.6" r="1.0"/></g>
<g fill="#222"><circle cx="114.7" cy="94.0" r="0.65"/><circle cx="115.4" cy="101.2" r="0.65"/><circle cx="115.4" cy="107.3" r="0.65"/><circle cx="114.8" cy="112.0" r="0.65"/><circle cx="114.6" cy="115.0" r="0.65"/><circle cx="114.8" cy="118.0" r="0.65"/><circle cx="114.9" cy="121.0" r="0.65"/><circle cx="115.3" cy="172.0" r="0.65"/><circle cx="115.3" cy="175.0" r="0.65"/><circle cx="115.3" cy="178.0" r="0.65"/><circle cx="114.6" cy="183.4" r="0.65"/><circle cx="115.2" cy="188.0" r="0.65"/><circle cx="115.2" cy="192.0" r="0.65"/></g>
<g fill="none" stroke="#0c0c0c" stroke-width="0.6"><circle cx="135.3" cy="129.8" r="1.0"/><circle cx="134.2" cy="130.2" r="1.0"/><circle cx="134.0" cy="130.7" r="1.0"/><circle cx="134.6" cy="131.1" r="1.0"/><circle cx="132.8" cy="131.9" r="1.0"/><circle cx="132.7" cy="132.5" r="1.0"/><circle cx="134.2" cy="132.5" r="1.0"/><circle cx="139.5" cy="132.6" r="1.0"/><circle cx="132.9" cy="133.5" r="1.0"/><circle cx="139.3" cy="133.3" r="1.0"/><circle cx="134.9" cy="133.9" r="1.0"/><circle cx="136.1" cy="133.8" r="1.0"/><circle cx="133.7" cy="134.0" r="1.0"/><circle cx="138.3" cy="134.3" r="1.0"/><circle cx="140.0" cy="134.6" r="1.0"/><circle cx="135.5" cy="134.6" r="1.0"/><circle cx="139.8" cy="135.2" r="1.0"/><circle cx="132.9" cy="135.2" r="1.0"/><circle cx="140.5" cy="135.6" r="1.0"/><circle cx="141.3" cy="135.5" r="1.0"/><circle cx="138.1" cy="136.1" r="1.0"/><circle cx="133.9" cy="136.6" r="1.0"/><circle cx="133.0" cy="136.7" r="1.0"/><circle cx="142.0" cy="137.5" r="1.0"/><circle cx="133.9" cy="137.9" r="1.0"/><circle cx="131.2" cy="137.9" r="1.0"/><circle cx="142.0" cy="138.0" r="1.0"/><circle cx="140.0" cy="138.2" r="1.0"/><circle cx="130.3" cy="138.9" r="1.0"/><circle cx="136.6" cy="138.6" r="1.0"/><circle cx="141.4" cy="139.1" r="1.0"/><circle cx="137.2" cy="139.1" r="1.0"/><circle cx="139.7" cy="139.9" r="1.0"/><circle cx="132.5" cy="139.5" r="1.0"/><circle cx="137.7" cy="140.2" r="1.0"/><circle cx="133.4" cy="140.1" r="1.0"/><circle cx="137.8" cy="140.4" r="1.0"/><circle cx="137.4" cy="140.6" r="1.0"/><circle cx="130.7" cy="140.9" r="1.0"/><circle cx="139.2" cy="141.0" r="1.0"/><circle cx="140.4" cy="141.2" r="1.0"/><circle cx="141.1" cy="141.7" r="1.0"/><circle cx="129.9" cy="142.0" r="1.0"/><circle cx="141.3" cy="142.1" r="1.0"/><circle cx="132.1" cy="142.4" r="1.0"/><circle cx="131.8" cy="142.7" r="1.0"/><circle cx="137.6" cy="142.5" r="1.0"/><circle cx="135.6" cy="143.3" r="1.0"/><circle cx="131.2" cy="143.4" r="1.0"/><circle cx="141.3" cy="143.7" r="1.0"/><circle cx="139.2" cy="143.7" r="1.0"/><circle cx="130.3" cy="144.4" r="1.0"/><circle cx="142.6" cy="144.2" r="1.0"/><circle cx="136.7" cy="144.8" r="1.0"/><circle cx="129.7" cy="145.0" r="1.0"/><circle cx="131.9" cy="145.1" r="1.0"/><circle cx="132.9" cy="145.4" r="1.0"/><circle cx="129.8" cy="145.0" r="1.0"/><circle cx="132.1" cy="145.5" r="1.0"/><circle cx="137.7" cy="145.8" r="1.0"/><circle cx="139.1" cy="146.1" r="1.0"/><circle cx="141.5" cy="146.4" r="1.0"/><circle cx="131.1" cy="146.7" r="1.0"/><circle cx="136.3" cy="146.6" r="1.0"/><circle cx="131.0" cy="146.7" r="1.0"/><circle cx="137.6" cy="147.4" r="1.0"/><circle cx="131.4" cy="147.3" r="1.0"/><circle cx="139.8" cy="147.1" r="1.0"/><circle cx="142.4" cy="147.7" r="1.0"/><circle cx="135.2" cy="147.9" r="1.0"/><circle cx="134.9" cy="148.5" r="1.0"/><circle cx="140.2" cy="148.2" r="1.0"/><circle cx="134.0" cy="148.7" r="1.0"/><circle cx="143.1" cy="148.9" r="1.0"/><circle cx="142.1" cy="148.9" r="1.0"/><circle cx="130.1" cy="149.3" r="1.0"/><circle cx="142.7" cy="149.5" r="1.0"/><circle cx="135.2" cy="149.8" r="1.0"/><circle cx="134.4" cy="149.8" r="1.0"/><circle cx="130.3" cy="149.7" r="1.0"/><circle cx="129.6" cy="150.1" r="1.0"/><circle cx="142.9" cy="150.4" r="1.0"/><circle cx="138.2" cy="150.9" r="1.0"/><circle cx="141.7" cy="150.9" r="1.0"/><circle cx="138.3" cy="151.1" r="1.0"/><circle cx="138.8" cy="151.1" r="1.0"/><circle cx="136.9" cy="151.5" r="1.0"/><circle cx="132.9" cy="151.8" r="1.0"/><circle cx="135.4" cy="152.0" r="1.0"/><circle cx="133.6" cy="152.3" r="1.0"/><circle cx="131.1" cy="152.3" r="1.0"/><circle cx="142.6" cy="152.3" r="1.0"/><circle cx="135.9" cy="152.8" r="1.0"/><circle cx="131.5" cy="152.6" r="1.0"/><circle cx="131.3" cy="152.6" r="1.0"/><circle cx="133.5" cy="153.1" r="1.0"/><circle cx="130.7" cy="153.3" r="1.0"/><circle cx="137.8" cy="153.8" r="1.0"/><circle cx="138.3" cy="153.6" r="1.0"/><circle cx="135.8" cy="154.3" r="1.0"/><circle cx="137.8" cy="154.2" r="1.0"/><circle cx="132.9" cy="154.6" r="1.0"/><circle cx="136.5" cy="154.7" r="1.0"/><circle cx="129.9" cy="155.2" r="1.0"/><circle cx="141.0" cy="155.1" r="1.0"/><circle cx="136.2" cy="155.6" r="1.0"/><circle cx="142.6" cy="155.6" r="1.0"/><circle cx="132.0" cy="156.0" r="1.0"/><circle cx="141.0" cy="156.2" r="1.0"/><circle cx="134.9" cy="156.7" r="1.0"/><circle cx="139.3" cy="156.6" r="1.0"/><circle cx="132.9" cy="157.0" r="1.0"/><circle cx="132.1" cy="157.2" r="1.0"/><circle cx="134.5" cy="157.3" r="1.0"/><circle cx="140.6" cy="157.9" r="1.0"/><circle cx="136.5" cy="157.9" r="1.0"/><circle cx="139.4" cy="158.2" r="1.0"/><circle cx="139.7" cy="158.4" r="1.0"/><circle cx="132.0" cy="158.9" r="1.0"/><circle cx="130.5" cy="158.9" r="1.0"/><circle cx="136.3" cy="159.5" r="1.0"/><circle cx="137.1" cy="159.2" r="1.0"/><circle cx="140.5" cy="159.8" r="1.0"/><circle cx="135.0" cy="159.7" r="1.0"/><circle cx="138.7" cy="160.1" r="1.0"/><circle cx="135.1" cy="160.3" r="1.0"/><circle cx="134.5" cy="160.9" r="1.0"/><circle cx="140.0" cy="160.7" r="1.0"/><circle cx="133.1" cy="161.2" r="1.0"/><circle cx="132.7" cy="161.3" r="1.0"/><circle cx="132.3" cy="162.0" r="1.0"/><circle cx="134.6" cy="161.9" r="1.0"/><circle cx="140.6" cy="162.1" r="1.0"/><circle cx="140.0" cy="162.5" r="1.0"/><circle cx="132.2" cy="162.8" r="1.0"/><circle cx="139.9" cy="163.4" r="1.0"/><circle cx="140.4" cy="163.8" r="1.0"/><circle cx="137.7" cy="164.2" r="1.0"/><circle cx="137.0" cy="164.7" r="1.0"/><circle cx="137.5" cy="165.3" r="1.0"/><circle cx="135.6" cy="165.7" r="1.0"/><circle cx="136.7" cy="166.4" r="1.0"/><circle cx="136.1" cy="167.3" r="1.0"/></g>
<g fill="#222"><circle cx="136.7" cy="110.5" r="0.65"/><circle cx="136.6" cy="115.0" r="0.65"/><circle cx="136.3" cy="118.5" r="0.65"/><circle cx="136.0" cy="122.0" r="0.65"/><circle cx="136.6" cy="125.0" r="0.65"/><circle cx="136.5" cy="127.5" r="0.65"/><circle cx="136.6" cy="170.0" r="0.65"/><circle cx="136.7" cy="172.5" r="0.65"/><circle cx="136.6" cy="175.0" r="0.65"/><circle cx="136.3" cy="178.8" r="0.65"/><circle cx="136.0" cy="188.0" r="0.65"/><circle cx="136.2" cy="196.7" r="0.65"/></g>
<g fill="none" stroke="#0c0c0c" stroke-width="0.6"><circle cx="158.0" cy="131.7" r="1.0"/><circle cx="155.3" cy="132.7" r="1.0"/><circle cx="156.5" cy="133.3" r="1.0"/><circle cx="156.4" cy="133.9" r="1.0"/><circle cx="158.2" cy="133.8" r="1.0"/><circle cx="157.6" cy="134.3" r="1.0"/><circle cx="156.0" cy="134.3" r="1.0"/><circle cx="161.4" cy="134.8" r="1.0"/><circle cx="154.6" cy="135.1" r="1.0"/><circle cx="159.7" cy="135.1" r="1.0"/><circle cx="154.9" cy="135.8" r="1.0"/><circle cx="160.4" cy="135.8" r="1.0"/><circle cx="153.8" cy="136.0" r="1.0"/><circle cx="156.0" cy="136.9" r="1.0"/><circle cx="154.4" cy="137.1" r="1.0"/><circle cx="153.8" cy="137.5" r="1.0"/><circle cx="156.1" cy="137.7" r="1.0"/><circle cx="156.5" cy="137.5" r="1.0"/><circle cx="158.5" cy="138.5" r="1.0"/><circle cx="158.9" cy="138.6" r="1.0"/><circle cx="152.8" cy="139.0" r="1.0"/><circle cx="155.6" cy="139.4" r="1.0"/><circle cx="161.1" cy="139.2" r="1.0"/><circle cx="162.8" cy="139.7" r="1.0"/><circle cx="162.7" cy="139.6" r="1.0"/><circle cx="160.2" cy="140.1" r="1.0"/><circle cx="155.5" cy="140.4" r="1.0"/><circle cx="161.1" cy="140.6" r="1.0"/><circle cx="153.8" cy="140.7" r="1.0"/><circle cx="163.3" cy="141.1" r="1.0"/><circle cx="158.4" cy="141.1" r="1.0"/><circle cx="156.3" cy="141.7" r="1.0"/><circle cx="152.4" cy="141.6" r="1.0"/><circle cx="155.8" cy="142.1" r="1.0"/><circle cx="153.8" cy="142.1" r="1.0"/><circle cx="151.9" cy="142.8" r="1.0"/><circle cx="155.7" cy="142.6" r="1.0"/><circle cx="160.2" cy="142.5" r="1.0"/><circle cx="161.9" cy="143.1" r="1.0"/><circle cx="156.9" cy="143.4" r="1.0"/><circle cx="153.3" cy="143.7" r="1.0"/><circle cx="160.5" cy="143.7" r="1.0"/><circle cx="153.9" cy="144.5" r="1.0"/><circle cx="157.7" cy="144.1" r="1.0"/><circle cx="152.9" cy="144.9" r="1.0"/><circle cx="154.6" cy="144.9" r="1.0"/><circle cx="155.9" cy="145.1" r="1.0"/><circle cx="159.1" cy="145.1" r="1.0"/><circle cx="152.7" cy="145.8" r="1.0"/><circle cx="158.2" cy="145.6" r="1.0"/><circle cx="156.1" cy="146.3" r="1.0"/><circle cx="158.5" cy="146.2" r="1.0"/><circle cx="152.2" cy="146.6" r="1.0"/><circle cx="162.3" cy="146.7" r="1.0"/><circle cx="152.5" cy="147.3" r="1.0"/><circle cx="155.8" cy="147.3" r="1.0"/><circle cx="151.9" cy="147.7" r="1.0"/><circle cx="154.0" cy="147.6" r="1.0"/><circle cx="160.5" cy="147.6" r="1.0"/><circle cx="163.0" cy="148.4" r="1.0"/><circle cx="162.7" cy="148.4" r="1.0"/><circle cx="154.7" cy="148.5" r="1.0"/><circle cx="160.0" cy="148.8" r="1.0"/><circle cx="155.7" cy="148.7" r="1.0"/><circle cx="160.3" cy="149.1" r="1.0"/><circle cx="162.2" cy="149.2" r="1.0"/><circle cx="153.5" cy="149.6" r="1.0"/><circle cx="163.1" cy="149.9" r="1.0"/><circle cx="151.6" cy="150.0" r="1.0"/><circle cx="153.2" cy="150.1" r="1.0"/><circle cx="156.1" cy="150.5" r="1.0"/><circle cx="155.2" cy="150.8" r="1.0"/><circle cx="153.5" cy="150.9" r="1.0"/><circle cx="160.5" cy="151.1" r="1.0"/><circle cx="156.8" cy="151.3" r="1.0"/><circle cx="151.2" cy="151.9" r="1.0"/><circle cx="161.2" cy="151.6" r="1.0"/><circle cx="162.2" cy="152.3" r="1.0"/><circle cx="151.8" cy="152.1" r="1.0"/><circle cx="152.6" cy="152.4" r="1.0"/><circle cx="162.9" cy="152.9" r="1.0"/><circle cx="152.4" cy="152.8" r="1.0"/><circle cx="156.3" cy="152.9" r="1.0"/><circle cx="154.9" cy="153.0" r="1.0"/><circle cx="163.3" cy="153.2" r="1.0"/><circle cx="160.1" cy="153.9" r="1.0"/><circle cx="161.8" cy="153.8" r="1.0"/><circle cx="152.1" cy="154.3" r="1.0"/><circle cx="156.8" cy="154.3" r="1.0"/><circle cx="153.1" cy="154.9" r="1.0"/><circle cx="152.1" cy="154.9" r="1.0"/><circle cx="154.8" cy="155.3" r="1.0"/><circle cx="163.3" cy="155.3" r="1.0"/><circle cx="154.7" cy="155.5" r="1.0"/><circle cx="156.0" cy="155.7" r="1.0"/><circle cx="155.4" cy="156.1" r="1.0"/><circle cx="160.1" cy="156.3" r="1.0"/><circle cx="154.7" cy="156.8" r="1.0"/><circle cx="157.0" cy="157.0" r="1.0"/><circle cx="155.4" cy="157.4" r="1.0"/><circle cx="153.6" cy="157.3" r="1.0"/><circle cx="161.1" cy="157.8" r="1.0"/><circle cx="160.5" cy="157.6" r="1.0"/><circle cx="158.7" cy="158.2" r="1.0"/><circle cx="160.5" cy="158.4" r="1.0"/><circle cx="155.5" cy="158.7" r="1.0"/><circle cx="154.6" cy="158.5" r="1.0"/><circle cx="154.6" cy="159.4" r="1.0"/><circle cx="157.1" cy="159.1" r="1.0"/><circle cx="157.3" cy="159.7" r="1.0"/><circle cx="154.4" cy="159.5" r="1.0"/><circle cx="162.3" cy="160.4" r="1.0"/><circle cx="153.7" cy="160.4" r="1.0"/><circle cx="158.2" cy="160.6" r="1.0"/><circle cx="157.1" cy="161.1" r="1.0"/><circle cx="158.0" cy="161.0" r="1.0"/><circle cx="158.8" cy="161.8" r="1.0"/><circle cx="158.8" cy="162.1" r="1.0"/><circle cx="155.0" cy="162.5" r="1.0"/><circle cx="159.6" cy="162.9" r="1.0"/><circle cx="155.5" cy="163.3" r="1.0"/><circle cx="160.3" cy="163.6" r="1.0"/><circle cx="159.5" cy="164.4" r="1.0"/><circle cx="156.1" cy="164.9" r="1.0"/><circle cx="157.1" cy="165.3" r="1.0"/><circle cx="158.8" cy="165.6" r="1.0"/></g>
<g fill="#222"><circle cx="157.8" cy="117.4" r="0.65"/><circle cx="158.0" cy="121.0" r="0.65"/><circle cx="158.0" cy="124.0" r="0.65"/><circle cx="157.6" cy="127.0" r="0.65"/><circle cx="157.6" cy="130.0" r="0.65"/><circle cx="157.4" cy="167.5" r="0.65"/><circle cx="157.5" cy="170.0" r="0.65"/><circle cx="157.7" cy="172.0" r="0.65"/><circle cx="157.3" cy="175.6" r="0.65"/><circle cx="157.8" cy="178.8" r="0.65"/><circle cx="157.4" cy="183.4" r="0.65"/><circle cx="157.6" cy="189.0" r="0.65"/></g>
<g fill="none" stroke="#0c0c0c" stroke-width="0.6"><circle cx="180.4" cy="131.4" r="1.0"/><circle cx="178.6" cy="131.6" r="1.0"/><circle cx="179.1" cy="132.2" r="1.0"/><circle cx="178.6" cy="132.8" r="1.0"/><circle cx="181.8" cy="133.1" r="1.0"/><circle cx="178.6" cy="133.8" r="1.0"/><circle cx="177.9" cy="133.6" r="1.0"/><circle cx="177.6" cy="134.2" r="1.0"/><circle cx="182.7" cy="134.5" r="1.0"/><circle cx="183.0" cy="135.0" r="1.0"/><circle cx="181.7" cy="135.0" r="1.0"/><circle cx="180.0" cy="135.6" r="1.0"/><circle cx="183.4" cy="136.2" r="1.0"/><circle cx="180.4" cy="136.1" r="1.0"/><circle cx="182.9" cy="136.5" r="1.0"/><circle cx="175.8" cy="136.8" r="1.0"/><circle cx="174.7" cy="137.3" r="1.0"/><circle cx="177.6" cy="137.3" r="1.0"/><circle cx="179.3" cy="137.8" r="1.0"/><circle cx="177.9" cy="137.6" r="1.0"/><circle cx="183.3" cy="138.3" r="1.0"/><circle cx="174.7" cy="138.4" r="1.0"/><circle cx="174.4" cy="138.8" r="1.0"/><circle cx="176.2" cy="138.7" r="1.0"/><circle cx="175.8" cy="139.3" r="1.0"/><circle cx="174.5" cy="139.3" r="1.0"/><circle cx="174.0" cy="139.7" r="1.0"/><circle cx="173.9" cy="139.7" r="1.0"/><circle cx="179.6" cy="140.4" r="1.0"/><circle cx="182.1" cy="140.1" r="1.0"/><circle cx="181.7" cy="140.6" r="1.0"/><circle cx="183.1" cy="140.7" r="1.0"/><circle cx="184.8" cy="141.3" r="1.0"/><circle cx="182.4" cy="141.1" r="1.0"/><circle cx="182.5" cy="141.0" r="1.0"/><circle cx="177.4" cy="141.5" r="1.0"/><circle cx="180.2" cy="141.6" r="1.0"/><circle cx="176.4" cy="141.9" r="1.0"/><circle cx="184.0" cy="142.3" r="1.0"/><circle cx="183.8" cy="142.3" r="1.0"/><circle cx="183.8" cy="142.6" r="1.0"/><circle cx="182.2" cy="142.7" r="1.0"/><circle cx="181.4" cy="143.4" r="1.0"/><circle cx="174.0" cy="143.2" r="1.0"/><circle cx="185.0" cy="143.9" r="1.0"/><circle cx="172.9" cy="143.8" r="1.0"/><circle cx="179.6" cy="144.4" r="1.0"/><circle cx="173.8" cy="144.5" r="1.0"/><circle cx="181.3" cy="144.1" r="1.0"/><circle cx="178.3" cy="144.9" r="1.0"/><circle cx="180.1" cy="144.6" r="1.0"/><circle cx="172.5" cy="144.6" r="1.0"/><circle cx="174.7" cy="145.3" r="1.0"/><circle cx="176.1" cy="145.3" r="1.0"/><circle cx="174.1" cy="145.9" r="1.0"/><circle cx="179.5" cy="145.8" r="1.0"/><circle cx="183.2" cy="146.0" r="1.0"/><circle cx="176.8" cy="146.1" r="1.0"/><circle cx="179.0" cy="146.4" r="1.0"/><circle cx="183.1" cy="146.0" r="1.0"/><circle cx="183.4" cy="146.8" r="1.0"/><circle cx="177.5" cy="146.7" r="1.0"/><circle cx="174.2" cy="146.9" r="1.0"/><circle cx="184.2" cy="147.3" r="1.0"/><circle cx="173.1" cy="147.2" r="1.0"/><circle cx="175.0" cy="147.4" r="1.0"/><circle cx="172.6" cy="147.6" r="1.0"/><circle cx="177.0" cy="147.7" r="1.0"/><circle cx="177.4" cy="148.2" r="1.0"/><circle cx="172.1" cy="148.3" r="1.0"/><circle cx="172.3" cy="148.7" r="1.0"/><circle cx="185.8" cy="148.5" r="1.0"/><circle cx="174.0" cy="148.8" r="1.0"/><circle cx="175.8" cy="149.3" r="1.0"/><circle cx="175.6" cy="149.3" r="1.0"/><circle cx="179.4" cy="149.5" r="1.0"/><circle cx="172.5" cy="149.8" r="1.0"/><circle cx="182.8" cy="149.9" r="1.0"/><circle cx="180.8" cy="150.3" r="1.0"/><circle cx="177.1" cy="150.1" r="1.0"/><circle cx="184.2" cy="151.0" r="1.0"/><circle cx="181.5" cy="150.7" r="1.0"/><circle cx="182.3" cy="151.3" r="1.0"/><circle cx="180.9" cy="151.2" r="1.0"/><circle cx="177.7" cy="151.5" r="1.0"/><circle cx="176.7" cy="151.7" r="1.0"/><circle cx="178.7" cy="152.2" r="1.0"/><circle cx="175.4" cy="152.1" r="1.0"/><circle cx="174.0" cy="152.5" r="1.0"/><circle cx="184.1" cy="152.7" r="1.0"/><circle cx="178.2" cy="152.8" r="1.0"/><circle cx="174.4" cy="153.0" r="1.0"/><circle cx="176.3" cy="153.2" r="1.0"/><circle cx="182.1" cy="153.3" r="1.0"/><circle cx="176.8" cy="154.0" r="1.0"/><circle cx="180.1" cy="153.5" r="1.0"/><circle cx="180.1" cy="154.5" r="1.0"/><circle cx="177.0" cy="154.4" r="1.0"/><circle cx="178.0" cy="154.4" r="1.0"/><circle cx="178.8" cy="154.9" r="1.0"/><circle cx="176.0" cy="154.6" r="1.0"/><circle cx="172.6" cy="154.6" r="1.0"/><circle cx="181.7" cy="155.1" r="1.0"/><circle cx="177.6" cy="155.1" r="1.0"/><circle cx="180.3" cy="155.4" r="1.0"/><circle cx="175.0" cy="155.9" r="1.0"/><circle cx="185.0" cy="155.8" r="1.0"/><circle cx="183.0" cy="156.4" r="1.0"/><circle cx="176.9" cy="156.1" r="1.0"/><circle cx="174.9" cy="156.3" r="1.0"/><circle cx="180.8" cy="157.0" r="1.0"/><circle cx="175.3" cy="156.7" r="1.0"/><circle cx="180.9" cy="157.2" r="1.0"/><circle cx="181.2" cy="157.2" r="1.0"/><circle cx="177.9" cy="157.5" r="1.0"/><circle cx="180.5" cy="157.7" r="1.0"/><circle cx="178.9" cy="157.8" r="1.0"/><circle cx="178.5" cy="158.0" r="1.0"/><circle cx="184.1" cy="158.3" r="1.0"/><circle cx="173.7" cy="158.8" r="1.0"/><circle cx="181.6" cy="158.7" r="1.0"/><circle cx="175.0" cy="159.1" r="1.0"/><circle cx="182.1" cy="159.0" r="1.0"/><circle cx="182.6" cy="159.2" r="1.0"/><circle cx="180.0" cy="159.8" r="1.0"/><circle cx="180.8" cy="159.8" r="1.0"/><circle cx="181.6" cy="160.1" r="1.0"/><circle cx="181.3" cy="160.4" r="1.0"/><circle cx="176.9" cy="160.9" r="1.0"/><circle cx="184.1" cy="160.7" r="1.0"/><circle cx="179.2" cy="161.5" r="1.0"/><circle cx="175.1" cy="161.0" r="1.0"/><circle cx="180.5" cy="161.9" r="1.0"/><circle cx="177.6" cy="162.0" r="1.0"/><circle cx="181.5" cy="162.0" r="1.0"/><circle cx="174.4" cy="162.1" r="1.0"/><circle cx="179.0" cy="162.8" r="1.0"/><circle cx="176.0" cy="163.0" r="1.0"/><circle cx="175.9" cy="163.1" r="1.0"/><circle cx="181.1" cy="163.5" r="1.0"/><circle cx="175.0" cy="163.9" r="1.0"/><circle cx="176.8" cy="164.0" r="1.0"/><circle cx="180.1" cy="164.2" r="1.0"/><circle cx="178.7" cy="164.7" r="1.0"/><circle cx="176.3" cy="165.4" r="1.0"/><circle cx="179.9" cy="165.7" r="1.0"/><circle cx="181.3" cy="165.5" r="1.0"/><circle cx="178.5" cy="166.5" r="1.0"/><circle cx="177.8" cy="167.1" r="1.0"/><circle cx="178.7" cy="167.6" r="1.0"/></g>
<g fill="#222"><circle cx="178.8" cy="107.7" r="0.65"/><circle cx="179.0" cy="111.4" r="0.65"/><circle cx="178.7" cy="114.0" r="0.65"/><circle cx="179.3" cy="118.7" r="0.65"/><circle cx="179.3" cy="121.5" r="0.65"/><circle cx="178.8" cy="124.5" r="0.65"/><circle cx="179.2" cy="127.5" r="0.65"/><circle cx="179.2" cy="130.0" r="0.65"/><circle cx="178.8" cy="170.0" r="0.65"/><circle cx="178.8" cy="172.5" r="0.65"/><circle cx="179.0" cy="174.0" r="0.65"/><circle cx="179.3" cy="178.8" r="0.65"/><circle cx="178.7" cy="183.4" r="0.65"/><circle cx="179.1" cy="188.0" r="0.65"/><circle cx="179.1" cy="196.7" r="0.65"/><circle cx="178.9" cy="199.0" r="0.65"/></g>
<g fill="none" stroke="#0c0c0c" stroke-width="0.6"><circle cx="201.9" cy="120.0" r="1.0"/><circle cx="201.3" cy="121.0" r="1.0"/><circle cx="201.1" cy="121.5" r="1.0"/><circle cx="202.3" cy="122.4" r="1.0"/><circle cx="202.7" cy="122.5" r="1.0"/><circle cx="201.9" cy="123.3" r="1.0"/><circle cx="200.3" cy="123.6" r="1.0"/><circle cx="199.9" cy="123.6" r="1.0"/><circle cx="203.3" cy="124.2" r="1.0"/><circle cx="202.6" cy="124.1" r="1.0"/><circle cx="198.0" cy="124.7" r="1.0"/><circle cx="201.5" cy="125.1" r="1.0"/><circle cx="201.9" cy="125.3" r="1.0"/><circle cx="199.3" cy="125.7" r="1.0"/><circle cx="203.2" cy="125.7" r="1.0"/><circle cx="203.7" cy="126.4" r="1.0"/><circle cx="202.0" cy="126.1" r="1.0"/><circle cx="198.5" cy="126.5" r="1.0"/><circle cx="196.9" cy="126.8" r="1.0"/><circle cx="200.8" cy="127.2" r="1.0"/><circle cx="196.5" cy="127.3" r="1.0"/><circle cx="200.7" cy="127.8" r="1.0"/><circle cx="204.3" cy="128.4" r="1.0"/><circle cx="199.4" cy="128.7" r="1.0"/><circle cx="204.5" cy="129.2" r="1.0"/><circle cx="199.3" cy="129.2" r="1.0"/><circle cx="204.8" cy="129.5" r="1.0"/><circle cx="201.3" cy="130.0" r="1.0"/><circle cx="201.3" cy="130.2" r="1.0"/><circle cx="197.9" cy="130.1" r="1.0"/><circle cx="203.6" cy="130.9" r="1.0"/><circle cx="204.2" cy="130.5" r="1.0"/><circle cx="198.6" cy="131.3" r="1.0"/><circle cx="200.8" cy="131.2" r="1.0"/><circle cx="195.3" cy="131.9" r="1.0"/><circle cx="200.4" cy="132.3" r="1.0"/><circle cx="205.4" cy="132.1" r="1.0"/><circle cx="202.9" cy="132.7" r="1.0"/><circle cx="202.5" cy="132.7" r="1.0"/><circle cx="201.5" cy="133.3" r="1.0"/><circle cx="198.4" cy="133.3" r="1.0"/><circle cx="197.3" cy="133.8" r="1.0"/><circle cx="197.7" cy="134.0" r="1.0"/><circle cx="202.8" cy="134.3" r="1.0"/><circle cx="200.0" cy="134.1" r="1.0"/><circle cx="205.2" cy="134.8" r="1.0"/><circle cx="200.6" cy="134.8" r="1.0"/><circle cx="203.9" cy="134.6" r="1.0"/><circle cx="204.0" cy="135.2" r="1.0"/><circle cx="201.9" cy="135.4" r="1.0"/><circle cx="204.9" cy="135.4" r="1.0"/><circle cx="198.9" cy="135.9" r="1.0"/><circle cx="204.0" cy="135.6" r="1.0"/><circle cx="196.3" cy="135.6" r="1.0"/><circle cx="198.6" cy="136.4" r="1.0"/><circle cx="200.6" cy="136.2" r="1.0"/><circle cx="195.4" cy="136.2" r="1.0"/><circle cx="202.7" cy="136.7" r="1.0"/><circle cx="200.0" cy="136.9" r="1.0"/><circle cx="196.0" cy="137.3" r="1.0"/><circle cx="198.7" cy="137.3" r="1.0"/><circle cx="198.7" cy="137.7" r="1.0"/><circle cx="198.8" cy="137.5" r="1.0"/><circle cx="196.6" cy="137.8" r="1.0"/><circle cx="196.3" cy="138.4" r="1.0"/><circle cx="197.5" cy="138.2" r="1.0"/><circle cx="197.1" cy="138.4" r="1.0"/><circle cx="202.0" cy="138.9" r="1.0"/><circle cx="196.5" cy="138.7" r="1.0"/><circle cx="204.0" cy="138.8" r="1.0"/><circle cx="194.4" cy="139.2" r="1.0"/><circle cx="198.6" cy="139.4" r="1.0"/><circle cx="197.7" cy="139.2" r="1.0"/><circle cx="204.4" cy="139.7" r="1.0"/><circle cx="198.8" cy="139.8" r="1.0"/><circle cx="196.2" cy="140.5" r="1.0"/><circle cx="203.1" cy="140.2" r="1.0"/><circle cx="198.0" cy="140.5" r="1.0"/><circle cx="203.7" cy="140.7" r="1.0"/><circle cx="200.3" cy="141.5" r="1.0"/><circle cx="203.8" cy="141.0" r="1.0"/><circle cx="201.6" cy="141.2" r="1.0"/><circle cx="204.9" cy="141.7" r="1.0"/><circle cx="200.0" cy="141.9" r="1.0"/><circle cx="199.5" cy="141.7" r="1.0"/><circle cx="204.8" cy="142.3" r="1.0"/><circle cx="203.6" cy="142.2" r="1.0"/><circle cx="194.0" cy="142.3" r="1.0"/><circle cx="204.0" cy="142.9" r="1.0"/><circle cx="195.0" cy="142.6" r="1.0"/><circle cx="194.5" cy="142.9" r="1.0"/><circle cx="194.6" cy="143.4" r="1.0"/><circle cx="201.2" cy="143.0" r="1.0"/><circle cx="202.8" cy="143.4" r="1.0"/><circle cx="194.1" cy="143.8" r="1.0"/><circle cx="199.2" cy="143.8" r="1.0"/><circle cx="207.3" cy="143.9" r="1.0"/><circle cx="195.3" cy="144.2" r="1.0"/><circle cx="200.6" cy="144.0" r="1.0"/><circle cx="197.1" cy="144.6" r="1.0"/><circle cx="197.7" cy="144.6" r="1.0"/><circle cx="201.1" cy="145.3" r="1.0"/><circle cx="199.2" cy="145.0" r="1.0"/><circle cx="205.6" cy="145.9" r="1.0"/><circle cx="205.4" cy="145.6" r="1.0"/><circle cx="196.0" cy="145.5" r="1.0"/><circle cx="198.5" cy="146.2" r="1.0"/><circle cx="200.2" cy="146.3" r="1.0"/><circle cx="198.4" cy="146.4" r="1.0"/><circle cx="206.3" cy="146.8" r="1.0"/><circle cx="193.9" cy="146.7" r="1.0"/><circle cx="200.8" cy="146.7" r="1.0"/><circle cx="197.8" cy="147.1" r="1.0"/><circle cx="204.6" cy="147.1" r="1.0"/><circle cx="203.3" cy="147.4" r="1.0"/><circle cx="199.7" cy="148.0" r="1.0"/><circle cx="199.5" cy="147.9" r="1.0"/><circle cx="194.0" cy="147.7" r="1.0"/><circle cx="193.8" cy="148.4" r="1.0"/><circle cx="194.2" cy="148.3" r="1.0"/><circle cx="195.7" cy="148.5" r="1.0"/><circle cx="204.6" cy="148.7" r="1.0"/><circle cx="202.8" cy="148.8" r="1.0"/><circle cx="197.4" cy="148.6" r="1.0"/><circle cx="195.3" cy="149.5" r="1.0"/><circle cx="196.1" cy="149.1" r="1.0"/><circle cx="204.3" cy="150.0" r="1.0"/><circle cx="199.1" cy="149.8" r="1.0"/><circle cx="196.9" cy="150.0" r="1.0"/><circle cx="195.5" cy="150.0" r="1.0"/><circle cx="203.1" cy="150.0" r="1.0"/><circle cx="197.4" cy="150.6" r="1.0"/><circle cx="201.5" cy="150.7" r="1.0"/><circle cx="195.5" cy="151.5" r="1.0"/><circle cx="197.9" cy="151.4" r="1.0"/><circle cx="195.5" cy="151.4" r="1.0"/><circle cx="198.8" cy="151.5" r="1.0"/><circle cx="198.7" cy="151.8" r="1.0"/><circle cx="200.9" cy="152.0" r="1.0"/><circle cx="199.8" cy="152.4" r="1.0"/><circle cx="199.4" cy="152.3" r="1.0"/><circle cx="204.7" cy="152.6" r="1.0"/><circle cx="206.0" cy="153.0" r="1.0"/><circle cx="206.2" cy="152.8" r="1.0"/><circle cx="198.3" cy="153.4" r="1.0"/><circle cx="200.3" cy="153.5" r="1.0"/><circle cx="194.9" cy="153.2" r="1.0"/><circle cx="201.6" cy="153.8" r="1.0"/><circle cx="194.9" cy="153.6" r="1.0"/><circle cx="205.4" cy="154.4" r="1.0"/><circle cx="196.8" cy="154.5" r="1.0"/><circle cx="194.2" cy="154.3" r="1.0"/><circle cx="198.3" cy="155.0" r="1.0"/><circle cx="202.3" cy="154.5" r="1.0"/><circle cx="199.7" cy="155.1" r="1.0"/><circle cx="203.4" cy="155.1" r="1.0"/><circle cx="203.9" cy="155.1" r="1.0"/><circle cx="201.0" cy="155.5" r="1.0"/><circle cx="201.0" cy="155.9" r="1.0"/><circle cx="201.5" cy="155.7" r="1.0"/><circle cx="200.5" cy="156.0" r="1.0"/><circle cx="202.1" cy="156.1" r="1.0"/><circle cx="201.3" cy="156.2" r="1.0"/><circle cx="202.3" cy="156.6" r="1.0"/><circle cx="196.3" cy="157.0" r="1.0"/><circle cx="204.4" cy="157.4" r="1.0"/><circle cx="200.1" cy="157.1" r="1.0"/><circle cx="204.7" cy="157.6" r="1.0"/><circle cx="200.3" cy="157.8" r="1.0"/><circle cx="195.8" cy="157.7" r="1.0"/><circle cx="200.7" cy="158.3" r="1.0"/><circle cx="198.8" cy="158.1" r="1.0"/><circle cx="199.2" cy="158.1" r="1.0"/><circle cx="197.4" cy="158.9" r="1.0"/><circle cx="200.3" cy="158.9" r="1.0"/><circle cx="194.9" cy="159.0" r="1.0"/><circle cx="203.5" cy="159.3" r="1.0"/><circle cx="202.4" cy="159.1" r="1.0"/><circle cx="196.6" cy="159.6" r="1.0"/><circle cx="195.3" cy="159.7" r="1.0"/><circle cx="198.1" cy="160.4" r="1.0"/><circle cx="195.9" cy="160.3" r="1.0"/><circle cx="201.3" cy="160.9" r="1.0"/><circle cx="202.5" cy="160.5" r="1.0"/><circle cx="201.3" cy="161.5" r="1.0"/><circle cx="195.7" cy="161.3" r="1.0"/><circle cx="203.4" cy="161.7" r="1.0"/><circle cx="203.3" cy="161.7" r="1.0"/><circle cx="195.7" cy="162.5" r="1.0"/><circle cx="199.5" cy="162.5" r="1.0"/><circle cx="197.9" cy="162.9" r="1.0"/><circle cx="197.2" cy="163.2" r="1.0"/><circle cx="197.1" cy="163.1" r="1.0"/><circle cx="198.8" cy="164.0" r="1.0"/><circle cx="204.6" cy="163.9" r="1.0"/><circle cx="200.3" cy="164.4" r="1.0"/><circle cx="203.7" cy="164.4" r="1.0"/><circle cx="197.9" cy="164.8" r="1.0"/><circle cx="202.5" cy="165.0" r="1.0"/><circle cx="199.2" cy="165.6" r="1.0"/><circle cx="201.6" cy="166.4" r="1.0"/><circle cx="202.6" cy="167.0" r="1.0"/><circle cx="203.1" cy="166.9" r="1.0"/><circle cx="202.3" cy="167.3" r="1.0"/><circle cx="202.3" cy="167.9" r="1.0"/><circle cx="199.1" cy="168.5" r="1.0"/><circle cx="202.8" cy="168.6" r="1.0"/><circle cx="201.8" cy="169.1" r="1.0"/><circle cx="199.0" cy="169.6" r="1.0"/><circle cx="199.1" cy="170.2" r="1.0"/><circle cx="201.1" cy="171.2" r="1.0"/></g>
<g fill="#222"><circle cx="200.2" cy="91.4" r="0.65"/><circle cx="200.4" cy="101.6" r="0.65"/><circle cx="200.6" cy="106.5" r="0.65"/><circle cx="200.5" cy="110.0" r="0.65"/><circle cx="199.9" cy="113.0" r="0.65"/><circle cx="200.3" cy="116.0" r="0.65"/><circle cx="199.9" cy="119.0" r="0.65"/><circle cx="200.0" cy="121.0" r="0.65"/><circle cx="200.6" cy="175.0" r="0.65"/><circle cx="200.2" cy="177.2" r="0.65"/><circle cx="200.4" cy="180.3" r="0.65"/><circle cx="200.3" cy="185.8" r="0.65"/><circle cx="200.2" cy="197.5" r="0.65"/></g>
<g fill="none" stroke="#0c0c0c" stroke-width="0.6"><circle cx="222.8" cy="123.1" r="1.0"/><circle cx="223.4" cy="123.7" r="1.0"/><circle cx="223.3" cy="124.3" r="1.0"/><circle cx="221.6" cy="125.5" r="1.0"/><circle cx="224.3" cy="125.6" r="1.0"/><circle cx="219.7" cy="126.3" r="1.0"/><circle cx="219.7" cy="127.0" r="1.0"/><circle cx="221.4" cy="126.9" r="1.0"/><circle cx="220.7" cy="127.1" r="1.0"/><circle cx="224.1" cy="127.8" r="1.0"/><circle cx="224.6" cy="128.4" r="1.0"/><circle cx="218.5" cy="128.8" r="1.0"/><circle cx="225.1" cy="129.2" r="1.0"/><circle cx="222.9" cy="129.3" r="1.0"/><circle cx="221.8" cy="129.8" r="1.0"/><circle cx="224.9" cy="129.7" r="1.0"/><circle cx="225.5" cy="130.0" r="1.0"/><circle cx="224.4" cy="130.3" r="1.0"/><circle cx="221.2" cy="130.9" r="1.0"/><circle cx="225.0" cy="130.9" r="1.0"/><circle cx="217.6" cy="131.2" r="1.0"/><circle cx="225.7" cy="131.9" r="1.0"/><circle cx="218.4" cy="131.8" r="1.0"/><circle cx="217.4" cy="132.2" r="1.0"/><circle cx="223.9" cy="132.3" r="1.0"/><circle cx="224.1" cy="132.6" r="1.0"/><circle cx="222.1" cy="132.7" r="1.0"/><circle cx="223.1" cy="133.4" r="1.0"/><circle cx="220.4" cy="134.0" r="1.0"/><circle cx="223.7" cy="133.8" r="1.0"/><circle cx="218.2" cy="134.3" r="1.0"/><circle cx="225.0" cy="134.4" r="1.0"/><circle cx="217.9" cy="134.8" r="1.0"/><circle cx="225.6" cy="134.6" r="1.0"/><circle cx="218.1" cy="135.2" r="1.0"/><circle cx="216.8" cy="135.1" r="1.0"/><circle cx="226.8" cy="136.0" r="1.0"/><circle cx="218.2" cy="135.7" r="1.0"/><circle cx="218.3" cy="136.2" r="1.0"/><circle cx="220.9" cy="136.1" r="1.0"/><circle cx="220.4" cy="136.7" r="1.0"/><circle cx="226.9" cy="136.6" r="1.0"/><circle cx="226.4" cy="137.2" r="1.0"/><circle cx="225.6" cy="137.3" r="1.0"/><circle cx="224.9" cy="137.2" r="1.0"/><circle cx="224.7" cy="137.7" r="1.0"/><circle cx="222.3" cy="137.8" r="1.0"/><circle cx="224.6" cy="137.6" r="1.0"/><circle cx="226.7" cy="138.3" r="1.0"/><circle cx="219.1" cy="138.3" r="1.0"/><circle cx="225.0" cy="138.5" r="1.0"/><circle cx="225.6" cy="138.8" r="1.0"/><circle cx="219.9" cy="139.0" r="1.0"/><circle cx="218.5" cy="139.0" r="1.0"/><circle cx="222.2" cy="139.4" r="1.0"/><circle cx="223.8" cy="139.2" r="1.0"/><circle cx="216.8" cy="139.7" r="1.0"/><circle cx="223.5" cy="140.0" r="1.0"/><circle cx="224.1" cy="140.4" r="1.0"/><circle cx="220.3" cy="140.5" r="1.0"/><circle cx="219.6" cy="140.7" r="1.0"/><circle cx="225.6" cy="140.7" r="1.0"/><circle cx="226.5" cy="141.3" r="1.0"/><circle cx="221.9" cy="141.3" r="1.0"/><circle cx="226.9" cy="141.1" r="1.0"/><circle cx="215.9" cy="141.7" r="1.0"/><circle cx="221.7" cy="141.9" r="1.0"/><circle cx="223.9" cy="141.8" r="1.0"/><circle cx="222.6" cy="142.1" r="1.0"/><circle cx="226.2" cy="142.4" r="1.0"/><circle cx="226.2" cy="142.1" r="1.0"/><circle cx="225.1" cy="142.8" r="1.0"/><circle cx="227.0" cy="142.9" r="1.0"/><circle cx="226.0" cy="143.3" r="1.0"/><circle cx="226.8" cy="143.1" r="1.0"/><circle cx="224.4" cy="143.8" r="1.0"/><circle cx="218.5" cy="143.5" r="1.0"/><circle cx="226.1" cy="144.1" r="1.0"/><circle cx="217.7" cy="144.1" r="1.0"/><circle cx="216.0" cy="144.3" r="1.0"/><circle cx="225.9" cy="144.7" r="1.0"/><circle cx="224.4" cy="144.5" r="1.0"/><circle cx="219.2" cy="145.0" r="1.0"/><circle cx="223.5" cy="145.1" r="1.0"/><circle cx="215.4" cy="145.7" r="1.0"/><circle cx="222.4" cy="145.9" r="1.0"/><circle cx="215.1" cy="145.9" r="1.0"/><circle cx="217.7" cy="146.3" r="1.0"/><circle cx="219.4" cy="146.2" r="1.0"/><circle cx="222.6" cy="146.1" r="1.0"/><circle cx="217.5" cy="146.9" r="1.0"/><circle cx="226.1" cy="146.8" r="1.0"/><circle cx="225.6" cy="147.0" r="1.0"/><circle cx="221.7" cy="147.2" r="1.0"/><circle cx="215.4" cy="147.3" r="1.0"/><circle cx="222.9" cy="147.7" r="1.0"/><circle cx="221.8" cy="147.8" r="1.0"/><circle cx="217.7" cy="147.9" r="1.0"/><circle cx="226.0" cy="148.5" r="1.0"/><circle cx="219.2" cy="148.5" r="1.0"/><circle cx="221.3" cy="148.6" r="1.0"/><circle cx="221.0" cy="148.8" r="1.0"/><circle cx="224.6" cy="148.7" r="1.0"/><circle cx="217.2" cy="149.2" r="1.0"/><circle cx="218.5" cy="149.1" r="1.0"/><circle cx="225.0" cy="149.3" r="1.0"/><circle cx="217.3" cy="149.9" r="1.0"/><circle cx="217.3" cy="149.6" r="1.0"/><circle cx="222.5" cy="149.9" r="1.0"/><circle cx="225.2" cy="150.5" r="1.0"/><circle cx="227.6" cy="150.4" r="1.0"/><circle cx="215.5" cy="150.6" r="1.0"/><circle cx="214.8" cy="150.9" r="1.0"/><circle cx="223.5" cy="151.1" r="1.0"/><circle cx="219.6" cy="151.1" r="1.0"/><circle cx="228.5" cy="151.7" r="1.0"/><circle cx="215.3" cy="151.6" r="1.0"/><circle cx="219.6" cy="151.9" r="1.0"/><circle cx="221.0" cy="152.1" r="1.0"/><circle cx="216.2" cy="152.1" r="1.0"/><circle cx="221.2" cy="153.0" r="1.0"/><circle cx="227.2" cy="152.9" r="1.0"/><circle cx="226.0" cy="153.1" r="1.0"/><circle cx="216.4" cy="153.3" r="1.0"/><circle cx="221.7" cy="153.1" r="1.0"/><circle cx="215.3" cy="154.0" r="1.0"/><circle cx="224.4" cy="154.0" r="1.0"/><circle cx="228.0" cy="153.7" r="1.0"/><circle cx="220.1" cy="154.4" r="1.0"/><circle cx="226.1" cy="154.1" r="1.0"/><circle cx="217.9" cy="154.8" r="1.0"/><circle cx="220.1" cy="154.5" r="1.0"/><circle cx="225.9" cy="154.9" r="1.0"/><circle cx="215.8" cy="155.4" r="1.0"/><circle cx="222.1" cy="155.0" r="1.0"/><circle cx="223.2" cy="155.9" r="1.0"/><circle cx="221.4" cy="155.8" r="1.0"/><circle cx="217.9" cy="155.6" r="1.0"/><circle cx="220.2" cy="156.1" r="1.0"/><circle cx="222.8" cy="156.1" r="1.0"/><circle cx="221.1" cy="156.8" r="1.0"/><circle cx="223.3" cy="156.9" r="1.0"/><circle cx="220.9" cy="156.5" r="1.0"/><circle cx="216.3" cy="157.2" r="1.0"/><circle cx="220.4" cy="157.3" r="1.0"/><circle cx="218.6" cy="157.8" r="1.0"/><circle cx="223.9" cy="157.7" r="1.0"/><circle cx="226.4" cy="158.3" r="1.0"/><circle cx="216.6" cy="158.1" r="1.0"/><circle cx="227.3" cy="158.1" r="1.0"/><circle cx="224.9" cy="158.9" r="1.0"/><circle cx="223.2" cy="158.9" r="1.0"/><circle cx="217.1" cy="159.5" r="1.0"/><circle cx="225.0" cy="159.0" r="1.0"/><circle cx="216.6" cy="159.1" r="1.0"/><circle cx="218.6" cy="159.8" r="1.0"/><circle cx="226.3" cy="159.8" r="1.0"/><circle cx="219.1" cy="160.1" r="1.0"/><circle cx="216.5" cy="160.4" r="1.0"/><circle cx="226.5" cy="160.9" r="1.0"/><circle cx="218.4" cy="160.9" r="1.0"/><circle cx="221.8" cy="161.1" r="1.0"/><circle cx="224.5" cy="161.4" r="1.0"/><circle cx="216.8" cy="161.9" r="1.0"/><circle cx="224.7" cy="162.3" r="1.0"/><circle cx="222.8" cy="162.3" r="1.0"/><circle cx="217.8" cy="162.5" r="1.0"/><circle cx="219.8" cy="163.2" r="1.0"/><circle cx="217.3" cy="163.4" r="1.0"/><circle cx="224.5" cy="163.9" r="1.0"/><circle cx="221.3" cy="163.6" r="1.0"/><circle cx="219.2" cy="164.2" r="1.0"/><circle cx="225.4" cy="164.8" r="1.0"/><circle cx="220.5" cy="164.5" r="1.0"/><circle cx="224.3" cy="165.4" r="1.0"/><circle cx="220.7" cy="165.7" r="1.0"/><circle cx="223.6" cy="165.6" r="1.0"/><circle cx="225.0" cy="166.4" r="1.0"/><circle cx="218.8" cy="166.6" r="1.0"/><circle cx="222.9" cy="166.8" r="1.0"/><circle cx="221.4" cy="167.2" r="1.0"/><circle cx="222.5" cy="168.0" r="1.0"/><circle cx="223.3" cy="168.5" r="1.0"/><circle cx="222.7" cy="168.5" r="1.0"/><circle cx="223.3" cy="169.2" r="1.0"/><circle cx="223.4" cy="170.2" r="1.0"/></g>
<g fill="#222"><circle cx="221.9" cy="85.6" r="0.65"/><circle cx="222.0" cy="94.0" r="0.65"/><circle cx="221.8" cy="99.2" r="0.65"/><circle cx="221.5" cy="105.4" r="0.65"/><circle cx="221.4" cy="108.5" r="0.65"/><circle cx="221.6" cy="111.5" r="0.65"/><circle cx="221.3" cy="114.8" r="0.65"/><circle cx="221.4" cy="118.0" r="0.65"/><circle cx="221.9" cy="121.0" r="0.65"/><circle cx="222.0" cy="124.0" r="0.65"/><circle cx="221.5" cy="126.5" r="0.65"/><circle cx="221.9" cy="174.5" r="0.65"/><circle cx="221.9" cy="176.4" r="0.65"/><circle cx="222.0" cy="178.5" r="0.65"/><circle cx="221.9" cy="181.0" r="0.65"/><circle cx="221.7" cy="185.0" r="0.65"/><circle cx="221.3" cy="191.2" r="0.65"/></g>
<g fill="#333"><circle cx="242.5" cy="124.0" r="0.7"/><circle cx="245.0" cy="124.0" r="0.7"/><circle cx="241.5" cy="128.5" r="0.7"/><circle cx="245.0" cy="128.5" r="0.7"/><circle cx="241.5" cy="131.0" r="0.7"/><circle cx="245.0" cy="131.0" r="0.7"/><circle cx="241.5" cy="133.3" r="0.7"/><circle cx="245.0" cy="133.3" r="0.7"/><circle cx="241.5" cy="139.0" r="0.7"/><circle cx="245.0" cy="139.0" r="0.7"/><circle cx="241.5" cy="141.5" r="0.7"/><circle cx="245.0" cy="141.5" r="0.7"/><circle cx="239.5" cy="143.8" r="0.7"/><circle cx="241.5" cy="143.8" r="0.7"/><circle cx="245.0" cy="143.8" r="0.7"/><circle cx="247.5" cy="143.8" r="0.7"/><circle cx="241.5" cy="146.2" r="0.7"/><circle cx="245.0" cy="146.2" r="0.7"/><circle cx="241.5" cy="152.0" r="0.7"/><circle cx="245.0" cy="152.0" r="0.7"/><circle cx="247.5" cy="152.0" r="0.7"/><circle cx="241.5" cy="154.5" r="0.7"/><circle cx="245.0" cy="154.5" r="0.7"/><circle cx="247.5" cy="154.5" r="0.7"/><circle cx="241.5" cy="157.0" r="0.7"/><circle cx="245.0" cy="157.0" r="0.7"/><circle cx="241.5" cy="159.5" r="0.7"/><circle cx="245.0" cy="159.5" r="0.7"/><circle cx="241.5" cy="165.5" r="0.7"/><circle cx="245.0" cy="165.5" r="0.7"/><circle cx="241.5" cy="167.8" r="0.7"/><circle cx="243.5" cy="170.5" r="0.7"/><circle cx="242.5" cy="173.0" r="0.7"/><circle cx="245.0" cy="173.0" r="0.7"/></g>
<g fill="#444"><circle cx="264.3" cy="116.5" r="0.7"/><circle cx="263.3" cy="121.0" r="0.7"/><circle cx="265.8" cy="121.0" r="0.7"/><circle cx="262.3" cy="123.5" r="0.7"/><circle cx="265.8" cy="123.5" r="0.7"/><circle cx="262.3" cy="126.0" r="0.7"/><circle cx="265.8" cy="126.0" r="0.7"/><circle cx="264.3" cy="129.0" r="0.7"/><circle cx="263.3" cy="131.5" r="0.7"/><circle cx="265.8" cy="131.5" r="0.7"/><circle cx="260.3" cy="136.0" r="0.7"/><circle cx="262.3" cy="136.0" r="0.7"/><circle cx="265.8" cy="136.0" r="0.7"/><circle cx="268.3" cy="136.0" r="0.7"/><circle cx="260.3" cy="138.5" r="0.7"/><circle cx="262.3" cy="138.5" r="0.7"/><circle cx="265.8" cy="138.5" r="0.7"/><circle cx="268.3" cy="138.5" r="0.7"/><circle cx="259.8" cy="141.0" r="0.7"/><circle cx="262.3" cy="141.0" r="0.7"/><circle cx="265.8" cy="141.0" r="0.7"/><circle cx="268.8" cy="141.0" r="0.7"/><circle cx="259.8" cy="143.5" r="0.7"/><circle cx="262.3" cy="143.5" r="0.7"/><circle cx="265.8" cy="143.5" r="0.7"/><circle cx="268.8" cy="143.5" r="0.7"/><circle cx="259.8" cy="146.0" r="0.7"/><circle cx="262.3" cy="146.0" r="0.7"/><circle cx="265.8" cy="146.0" r="0.7"/><circle cx="268.8" cy="146.0" r="0.7"/><circle cx="259.8" cy="151.5" r="0.7"/><circle cx="262.3" cy="151.5" r="0.7"/><circle cx="265.8" cy="151.5" r="0.7"/><circle cx="268.8" cy="151.5" r="0.7"/><circle cx="260.3" cy="154.0" r="0.7"/><circle cx="262.3" cy="154.0" r="0.7"/><circle cx="265.8" cy="154.0" r="0.7"/><circle cx="268.3" cy="154.0" r="0.7"/><circle cx="260.3" cy="156.5" r="0.7"/><circle cx="262.3" cy="156.5" r="0.7"/><circle cx="265.8" cy="156.5" r="0.7"/><circle cx="268.3" cy="156.5" r="0.7"/><circle cx="262.3" cy="159.0" r="0.7"/><circle cx="265.8" cy="159.0" r="0.7"/><circle cx="268.3" cy="159.0" r="0.7"/><circle cx="262.3" cy="165.0" r="0.7"/><circle cx="265.8" cy="165.0" r="0.7"/><circle cx="262.3" cy="167.5" r="0.7"/><circle cx="265.8" cy="167.5" r="0.7"/><circle cx="263.3" cy="170.0" r="0.7"/><circle cx="265.8" cy="170.0" r="0.7"/><circle cx="264.3" cy="173.0" r="0.7"/><circle cx="264.3" cy="176.0" r="0.7"/></g>
<g fill="none" stroke="#0c0c0c" stroke-width="0.6"><circle cx="287.2" cy="130.1" r="1.0"/><circle cx="286.3" cy="130.8" r="1.0"/><circle cx="286.6" cy="131.1" r="1.0"/><circle cx="283.7" cy="131.8" r="1.0"/><circle cx="284.4" cy="131.6" r="1.0"/><circle cx="286.3" cy="132.3" r="1.0"/><circle cx="286.1" cy="132.8" r="1.0"/><circle cx="284.7" cy="132.5" r="1.0"/><circle cx="283.2" cy="133.2" r="1.0"/><circle cx="283.8" cy="133.1" r="1.0"/><circle cx="288.1" cy="133.8" r="1.0"/><circle cx="284.4" cy="133.9" r="1.0"/><circle cx="283.4" cy="134.2" r="1.0"/><circle cx="285.1" cy="134.3" r="1.0"/><circle cx="287.0" cy="134.5" r="1.0"/><circle cx="288.2" cy="134.7" r="1.0"/><circle cx="282.7" cy="135.4" r="1.0"/><circle cx="283.9" cy="135.4" r="1.0"/><circle cx="286.7" cy="135.6" r="1.0"/><circle cx="282.5" cy="135.6" r="1.0"/><circle cx="283.3" cy="136.3" r="1.0"/><circle cx="286.2" cy="136.3" r="1.0"/><circle cx="283.1" cy="136.5" r="1.0"/><circle cx="289.0" cy="136.7" r="1.0"/><circle cx="286.7" cy="136.8" r="1.0"/><circle cx="282.4" cy="137.0" r="1.0"/><circle cx="288.2" cy="137.1" r="1.0"/><circle cx="289.0" cy="137.2" r="1.0"/><circle cx="282.9" cy="137.9" r="1.0"/><circle cx="283.7" cy="137.7" r="1.0"/><circle cx="285.8" cy="137.6" r="1.0"/><circle cx="288.0" cy="138.1" r="1.0"/><circle cx="284.7" cy="138.4" r="1.0"/><circle cx="283.4" cy="138.1" r="1.0"/><circle cx="284.7" cy="138.7" r="1.0"/><circle cx="286.8" cy="138.7" r="1.0"/><circle cx="288.7" cy="138.5" r="1.0"/><circle cx="288.5" cy="139.1" r="1.0"/><circle cx="281.6" cy="139.2" r="1.0"/><circle cx="282.3" cy="139.2" r="1.0"/><circle cx="282.0" cy="139.6" r="1.0"/><circle cx="285.4" cy="139.6" r="1.0"/><circle cx="283.2" cy="139.7" r="1.0"/><circle cx="281.7" cy="140.2" r="1.0"/><circle cx="285.3" cy="140.5" r="1.0"/><circle cx="286.1" cy="140.0" r="1.0"/><circle cx="283.1" cy="140.4" r="1.0"/><circle cx="289.1" cy="141.0" r="1.0"/><circle cx="289.0" cy="140.6" r="1.0"/><circle cx="289.8" cy="140.8" r="1.0"/><circle cx="282.4" cy="141.4" r="1.0"/><circle cx="282.8" cy="141.0" r="1.0"/><circle cx="283.3" cy="141.5" r="1.0"/><circle cx="285.2" cy="141.4" r="1.0"/><circle cx="285.2" cy="141.7" r="1.0"/><circle cx="282.7" cy="141.8" r="1.0"/><circle cx="284.2" cy="141.6" r="1.0"/><circle cx="290.5" cy="141.7" r="1.0"/><circle cx="280.5" cy="142.3" r="1.0"/><circle cx="285.8" cy="142.0" r="1.0"/><circle cx="285.3" cy="142.4" r="1.0"/><circle cx="286.0" cy="142.1" r="1.0"/><circle cx="286.8" cy="142.8" r="1.0"/><circle cx="281.8" cy="142.9" r="1.0"/><circle cx="290.4" cy="142.9" r="1.0"/><circle cx="289.5" cy="142.7" r="1.0"/><circle cx="282.1" cy="143.1" r="1.0"/><circle cx="286.7" cy="143.5" r="1.0"/><circle cx="281.0" cy="143.1" r="1.0"/><circle cx="280.5" cy="143.2" r="1.0"/><circle cx="282.1" cy="143.9" r="1.0"/><circle cx="286.6" cy="144.0" r="1.0"/><circle cx="284.5" cy="143.8" r="1.0"/><circle cx="280.1" cy="144.0" r="1.0"/><circle cx="285.4" cy="144.3" r="1.0"/><circle cx="290.9" cy="144.2" r="1.0"/><circle cx="291.4" cy="144.3" r="1.0"/><circle cx="282.3" cy="144.4" r="1.0"/><circle cx="291.6" cy="144.7" r="1.0"/><circle cx="282.3" cy="145.0" r="1.0"/><circle cx="283.5" cy="144.7" r="1.0"/><circle cx="283.7" cy="144.8" r="1.0"/><circle cx="279.9" cy="144.7" r="1.0"/><circle cx="289.7" cy="145.0" r="1.0"/><circle cx="287.0" cy="145.1" r="1.0"/><circle cx="285.1" cy="145.3" r="1.0"/><circle cx="288.2" cy="145.1" r="1.0"/><circle cx="282.4" cy="145.1" r="1.0"/><circle cx="281.2" cy="145.6" r="1.0"/><circle cx="285.9" cy="145.8" r="1.0"/><circle cx="290.5" cy="145.5" r="1.0"/><circle cx="282.3" cy="145.6" r="1.0"/><circle cx="285.0" cy="146.2" r="1.0"/><circle cx="290.7" cy="146.3" r="1.0"/><circle cx="290.3" cy="146.5" r="1.0"/><circle cx="282.6" cy="146.5" r="1.0"/><circle cx="284.4" cy="146.0" r="1.0"/><circle cx="280.4" cy="146.5" r="1.0"/><circle cx="282.8" cy="146.6" r="1.0"/><circle cx="291.8" cy="146.9" r="1.0"/><circle cx="284.6" cy="146.8" r="1.0"/><circle cx="289.8" cy="147.3" r="1.0"/><circle cx="285.8" cy="147.1" r="1.0"/><circle cx="282.1" cy="147.3" r="1.0"/><circle cx="286.8" cy="147.4" r="1.0"/><circle cx="291.1" cy="147.5" r="1.0"/><circle cx="279.7" cy="147.9" r="1.0"/><circle cx="286.6" cy="147.6" r="1.0"/><circle cx="288.3" cy="147.6" r="1.0"/><circle cx="282.0" cy="147.7" r="1.0"/><circle cx="286.0" cy="147.8" r="1.0"/><circle cx="289.1" cy="148.3" r="1.0"/><circle cx="285.2" cy="148.3" r="1.0"/><circle cx="289.9" cy="148.0" r="1.0"/><circle cx="285.3" cy="148.3" r="1.0"/><circle cx="288.6" cy="148.3" r="1.0"/><circle cx="281.1" cy="148.5" r="1.0"/><circle cx="281.7" cy="148.7" r="1.0"/><circle cx="292.3" cy="148.6" r="1.0"/><circle cx="284.3" cy="149.0" r="1.0"/><circle cx="291.5" cy="148.6" r="1.0"/><circle cx="289.1" cy="148.7" r="1.0"/><circle cx="289.6" cy="149.1" r="1.0"/><circle cx="281.5" cy="149.1" r="1.0"/><circle cx="282.1" cy="149.0" r="1.0"/><circle cx="280.2" cy="149.2" r="1.0"/><circle cx="284.4" cy="149.0" r="1.0"/><circle cx="292.4" cy="149.8" r="1.0"/><circle cx="283.4" cy="149.9" r="1.0"/><circle cx="284.7" cy="149.6" r="1.0"/><circle cx="285.4" cy="149.5" r="1.0"/><circle cx="288.3" cy="149.6" r="1.0"/><circle cx="292.8" cy="150.4" r="1.0"/><circle cx="290.9" cy="150.3" r="1.0"/><circle cx="287.7" cy="150.4" r="1.0"/><circle cx="292.9" cy="150.1" r="1.0"/><circle cx="289.8" cy="150.2" r="1.0"/><circle cx="281.8" cy="150.4" r="1.0"/><circle cx="291.0" cy="150.9" r="1.0"/><circle cx="287.0" cy="150.6" r="1.0"/><circle cx="278.2" cy="150.8" r="1.0"/><circle cx="289.1" cy="150.6" r="1.0"/><circle cx="279.1" cy="150.5" r="1.0"/><circle cx="288.6" cy="151.0" r="1.0"/><circle cx="281.6" cy="151.1" r="1.0"/><circle cx="288.8" cy="151.5" r="1.0"/><circle cx="278.4" cy="151.1" r="1.0"/><circle cx="292.1" cy="151.5" r="1.0"/><circle cx="280.4" cy="151.2" r="1.0"/><circle cx="283.0" cy="151.7" r="1.0"/><circle cx="285.3" cy="151.6" r="1.0"/><circle cx="279.1" cy="151.5" r="1.0"/><circle cx="280.7" cy="151.5" r="1.0"/><circle cx="287.5" cy="151.8" r="1.0"/><circle cx="289.8" cy="152.4" r="1.0"/><circle cx="283.4" cy="152.2" r="1.0"/><circle cx="281.2" cy="152.5" r="1.0"/><circle cx="286.5" cy="152.0" r="1.0"/><circle cx="280.7" cy="152.3" r="1.0"/><circle cx="288.7" cy="152.6" r="1.0"/><circle cx="289.8" cy="152.9" r="1.0"/><circle cx="279.9" cy="152.8" r="1.0"/><circle cx="281.3" cy="152.9" r="1.0"/><circle cx="289.9" cy="152.9" r="1.0"/><circle cx="280.0" cy="153.3" r="1.0"/><circle cx="286.5" cy="153.1" r="1.0"/><circle cx="281.4" cy="153.3" r="1.0"/><circle cx="280.2" cy="153.3" r="1.0"/><circle cx="282.1" cy="153.1" r="1.0"/><circle cx="286.1" cy="153.9" r="1.0"/><circle cx="279.3" cy="153.9" r="1.0"/><circle cx="281.9" cy="153.6" r="1.0"/><circle cx="287.5" cy="153.8" r="1.0"/><circle cx="287.2" cy="154.0" r="1.0"/><circle cx="283.1" cy="154.3" r="1.0"/><circle cx="282.5" cy="154.1" r="1.0"/><circle cx="282.0" cy="154.4" r="1.0"/><circle cx="289.9" cy="154.4" r="1.0"/><circle cx="291.7" cy="154.4" r="1.0"/><circle cx="283.3" cy="154.9" r="1.0"/><circle cx="279.9" cy="154.8" r="1.0"/><circle cx="280.4" cy="154.5" r="1.0"/><circle cx="285.8" cy="154.6" r="1.0"/><circle cx="291.2" cy="154.9" r="1.0"/><circle cx="281.8" cy="155.1" r="1.0"/><circle cx="285.7" cy="155.3" r="1.0"/><circle cx="283.9" cy="155.4" r="1.0"/><circle cx="286.0" cy="155.4" r="1.0"/><circle cx="280.7" cy="155.0" r="1.0"/><circle cx="285.4" cy="155.6" r="1.0"/><circle cx="287.7" cy="155.6" r="1.0"/><circle cx="283.4" cy="155.7" r="1.0"/><circle cx="288.2" cy="155.9" r="1.0"/><circle cx="284.1" cy="155.7" r="1.0"/><circle cx="290.8" cy="156.3" r="1.0"/><circle cx="280.9" cy="156.2" r="1.0"/><circle cx="287.3" cy="156.1" r="1.0"/><circle cx="280.1" cy="156.5" r="1.0"/><circle cx="281.3" cy="156.7" r="1.0"/><circle cx="287.0" cy="156.6" r="1.0"/><circle cx="280.6" cy="156.9" r="1.0"/><circle cx="288.8" cy="156.7" r="1.0"/><circle cx="284.4" cy="157.0" r="1.0"/><circle cx="290.9" cy="157.0" r="1.0"/><circle cx="283.2" cy="157.4" r="1.0"/><circle cx="281.5" cy="157.1" r="1.0"/><circle cx="280.8" cy="157.1" r="1.0"/><circle cx="289.3" cy="157.6" r="1.0"/><circle cx="282.0" cy="157.9" r="1.0"/><circle cx="284.8" cy="157.7" r="1.0"/><circle cx="281.5" cy="157.6" r="1.0"/><circle cx="281.5" cy="158.1" r="1.0"/><circle cx="288.2" cy="158.4" r="1.0"/><circle cx="290.0" cy="158.2" r="1.0"/><circle cx="286.7" cy="158.6" r="1.0"/><circle cx="285.3" cy="158.9" r="1.0"/><circle cx="288.1" cy="158.6" r="1.0"/><circle cx="290.3" cy="159.1" r="1.0"/><circle cx="288.8" cy="159.2" r="1.0"/><circle cx="283.1" cy="159.1" r="1.0"/><circle cx="285.3" cy="159.5" r="1.0"/><circle cx="289.1" cy="159.7" r="1.0"/><circle cx="282.4" cy="159.9" r="1.0"/><circle cx="284.1" cy="159.6" r="1.0"/><circle cx="284.8" cy="159.9" r="1.0"/><circle cx="286.3" cy="160.0" r="1.0"/><circle cx="288.2" cy="160.3" r="1.0"/><circle cx="289.5" cy="160.5" r="1.0"/><circle cx="288.9" cy="160.9" r="1.0"/><circle cx="283.5" cy="160.7" r="1.0"/><circle cx="284.5" cy="160.7" r="1.0"/><circle cx="284.5" cy="160.6" r="1.0"/><circle cx="289.3" cy="161.2" r="1.0"/><circle cx="286.9" cy="161.4" r="1.0"/><circle cx="287.9" cy="161.1" r="1.0"/><circle cx="289.4" cy="161.4" r="1.0"/><circle cx="287.6" cy="161.9" r="1.0"/><circle cx="288.4" cy="161.6" r="1.0"/><circle cx="287.0" cy="161.7" r="1.0"/><circle cx="282.5" cy="162.3" r="1.0"/><circle cx="284.2" cy="162.4" r="1.0"/><circle cx="284.3" cy="162.4" r="1.0"/><circle cx="288.7" cy="162.6" r="1.0"/><circle cx="289.2" cy="162.9" r="1.0"/><circle cx="287.1" cy="162.8" r="1.0"/><circle cx="288.5" cy="163.3" r="1.0"/><circle cx="285.3" cy="163.2" r="1.0"/><circle cx="287.9" cy="163.4" r="1.0"/><circle cx="283.5" cy="163.7" r="1.0"/><circle cx="283.7" cy="163.6" r="1.0"/><circle cx="282.2" cy="164.4" r="1.0"/><circle cx="283.6" cy="164.0" r="1.0"/><circle cx="282.5" cy="164.4" r="1.0"/><circle cx="285.4" cy="164.7" r="1.0"/><circle cx="287.8" cy="165.0" r="1.0"/><circle cx="284.3" cy="164.8" r="1.0"/><circle cx="285.4" cy="165.4" r="1.0"/><circle cx="287.2" cy="165.2" r="1.0"/><circle cx="286.1" cy="165.6" r="1.0"/><circle cx="286.2" cy="165.9" r="1.0"/><circle cx="285.5" cy="166.2" r="1.0"/><circle cx="288.0" cy="166.3" r="1.0"/><circle cx="284.8" cy="166.7" r="1.0"/><circle cx="288.3" cy="166.8" r="1.0"/><circle cx="288.0" cy="167.0" r="1.0"/><circle cx="286.1" cy="167.2" r="1.0"/><circle cx="285.2" cy="167.5" r="1.0"/><circle cx="285.8" cy="167.9" r="1.0"/><circle cx="284.9" cy="168.1" r="1.0"/><circle cx="286.9" cy="168.4" r="1.0"/><circle cx="287.5" cy="169.0" r="1.0"/><circle cx="285.3" cy="168.7" r="1.0"/><circle cx="287.6" cy="169.1" r="1.0"/><circle cx="284.9" cy="169.9" r="1.0"/><circle cx="284.3" cy="169.8" r="1.0"/><circle cx="286.3" cy="170.1" r="1.0"/><circle cx="287.5" cy="170.8" r="1.0"/><circle cx="284.5" cy="171.5" r="1.0"/><circle cx="286.5" cy="171.9" r="1.0"/><circle cx="285.8" cy="100.0" r="1.0"/><circle cx="286.1" cy="181.0" r="1.0"/></g>
<g fill="#222"><circle cx="93.2" cy="113.0" r="0.7"/><circle cx="93.7" cy="113.5" r="0.7"/><circle cx="94.0" cy="117.5" r="0.7"/><circle cx="93.3" cy="174.5" r="0.7"/><circle cx="94.1" cy="175.0" r="0.7"/><circle cx="94.1" cy="176.0" r="0.7"/><circle cx="93.6" cy="176.5" r="0.7"/><circle cx="114.6" cy="121.5" r="0.7"/><circle cx="115.2" cy="122.0" r="0.7"/><circle cx="114.6" cy="123.0" r="0.7"/><circle cx="114.9" cy="172.0" r="0.7"/><circle cx="135.9" cy="128.0" r="0.7"/><circle cx="136.4" cy="168.0" r="0.7"/><circle cx="136.1" cy="169.0" r="0.7"/><circle cx="157.3" cy="131.0" r="0.7"/><circle cx="157.7" cy="166.0" r="0.7"/><circle cx="178.4" cy="129.5" r="0.7"/><circle cx="178.6" cy="130.0" r="0.7"/><circle cx="179.3" cy="168.0" r="0.7"/><circle cx="179.6" cy="169.0" r="0.7"/><circle cx="200.8" cy="117.0" r="0.7"/><circle cx="200.6" cy="117.5" r="0.7"/><circle cx="200.7" cy="118.5" r="0.7"/><circle cx="199.7" cy="119.5" r="0.7"/><circle cx="199.8" cy="174.0" r="0.7"/><circle cx="221.5" cy="119.0" r="0.7"/><circle cx="221.1" cy="120.5" r="0.7"/><circle cx="221.9" cy="121.0" r="0.7"/><circle cx="221.8" cy="121.5" r="0.7"/><circle cx="221.9" cy="122.5" r="0.7"/><circle cx="221.4" cy="171.0" r="0.7"/><circle cx="221.4" cy="171.5" r="0.7"/><circle cx="221.6" cy="172.0" r="0.7"/><circle cx="285.8" cy="123.5" r="0.7"/><circle cx="285.7" cy="124.0" r="0.7"/><circle cx="285.7" cy="125.0" r="0.7"/><circle cx="286.1" cy="127.0" r="0.7"/><circle cx="285.3" cy="128.5" r="0.7"/><circle cx="286.1" cy="129.0" r="0.7"/><circle cx="285.3" cy="129.5" r="0.7"/><circle cx="286.1" cy="172.0" r="0.7"/><circle cx="285.1" cy="172.5" r="0.7"/><circle cx="285.8" cy="176.5" r="0.7"/><circle cx="285.8" cy="177.5" r="0.7"/><circle cx="285.4" cy="178.0" r="0.7"/><circle cx="285.6" cy="178.5" r="0.7"/><circle cx="285.2" cy="100.0" r="0.7"/><circle cx="285.1" cy="104.4" r="0.7"/><circle cx="285.5" cy="107.0" r="0.7"/><circle cx="285.8" cy="109.6" r="0.7"/><circle cx="285.9" cy="112.0" r="0.7"/><circle cx="285.4" cy="114.5" r="0.7"/><circle cx="285.4" cy="117.0" r="0.7"/><circle cx="285.6" cy="119.5" r="0.7"/><circle cx="285.3" cy="122.0" r="0.7"/></g>
<line x1="93.66" y1="134.50" x2="93.66" y2="162.00" stroke="#231f20" stroke-width="1.2"/>
<line x1="86.46" y1="148.50" x2="100.86" y2="148.50" stroke="#231f20" stroke-width="1.2"/>
<line x1="89.66" y1="134.50" x2="97.66" y2="134.50" stroke="#231f20" stroke-width="1.2"/>
<line x1="89.66" y1="162.00" x2="97.66" y2="162.00" stroke="#231f20" stroke-width="1.2"/>
<line x1="114.99" y1="134.50" x2="114.99" y2="162.00" stroke="#231f20" stroke-width="1.2"/>
<line x1="107.79" y1="148.50" x2="122.19" y2="148.50" stroke="#231f20" stroke-width="1.2"/>
<line x1="110.99" y1="134.50" x2="118.99" y2="134.50" stroke="#231f20" stroke-width="1.2"/>
<line x1="110.99" y1="162.00" x2="118.99" y2="162.00" stroke="#231f20" stroke-width="1.2"/>
<line x1="136.32" y1="134.50" x2="136.32" y2="162.00" stroke="#231f20" stroke-width="1.2"/>
<line x1="129.12" y1="148.50" x2="143.52" y2="148.50" stroke="#231f20" stroke-width="1.2"/>
<line x1="132.32" y1="134.50" x2="140.32" y2="134.50" stroke="#231f20" stroke-width="1.2"/>
<line x1="132.32" y1="162.00" x2="140.32" y2="162.00" stroke="#231f20" stroke-width="1.2"/>
<line x1="157.65" y1="134.50" x2="157.65" y2="162.00" stroke="#231f20" stroke-width="1.2"/>
<line x1="150.45" y1="148.50" x2="164.85" y2="148.50" stroke="#231f20" stroke-width="1.2"/>
<line x1="153.65" y1="134.50" x2="161.65" y2="134.50" stroke="#231f20" stroke-width="1.2"/>
<line x1="153.65" y1="162.00" x2="161.65" y2="162.00" stroke="#231f20" stroke-width="1.2"/>
<line x1="178.98" y1="134.50" x2="178.98" y2="162.00" stroke="#231f20" stroke-width="1.2"/>
<line x1="171.78" y1="148.50" x2="186.18" y2="148.50" stroke="#231f20" stroke-width="1.2"/>
<line x1="174.98" y1="134.50" x2="182.98" y2="134.50" stroke="#231f20" stroke-width="1.2"/>
<line x1="174.98" y1="162.00" x2="182.98" y2="162.00" stroke="#231f20" stroke-width="1.2"/>
<line x1="200.31" y1="134.50" x2="200.31" y2="162.00" stroke="#231f20" stroke-width="1.2"/>
<line x1="193.11" y1="148.50" x2="207.51" y2="148.50" stroke="#231f20" stroke-width="1.2"/>
<line x1="196.31" y1="134.50" x2="204.31" y2="134.50" stroke="#231f20" stroke-width="1.2"/>
<line x1="196.31" y1="162.00" x2="204.31" y2="162.00" stroke="#231f20" stroke-width="1.2"/>
<line x1="221.64" y1="134.50" x2="221.64" y2="162.00" stroke="#231f20" stroke-width="1.2"/>
<line x1="214.44" y1="148.50" x2="228.84" y2="148.50" stroke="#231f20" stroke-width="1.2"/>
<line x1="217.64" y1="134.50" x2="225.64" y2="134.50" stroke="#231f20" stroke-width="1.2"/>
<line x1="217.64" y1="162.00" x2="225.64" y2="162.00" stroke="#231f20" stroke-width="1.2"/>
<line x1="285.63" y1="134.50" x2="285.63" y2="162.00" stroke="#231f20" stroke-width="1.2"/>
<line x1="278.43" y1="148.50" x2="292.83" y2="148.50" stroke="#231f20" stroke-width="1.2"/>
<line x1="281.63" y1="134.50" x2="289.63" y2="134.50" stroke="#231f20" stroke-width="1.2"/>
<line x1="281.63" y1="162.00" x2="289.63" y2="162.00" stroke="#231f20" stroke-width="1.2"/>
<line x1="243.50" y1="135.20" x2="243.50" y2="162.10" stroke="#555" stroke-width="1.0"/>
<line x1="236.20" y1="148.60" x2="250.75" y2="148.60" stroke="#333" stroke-width="1.5"/>
<line x1="239.80" y1="135.50" x2="247.10" y2="135.50" stroke="#222" stroke-width="1.0"/>
<line x1="239.50" y1="162.50" x2="247.50" y2="162.50" stroke="#222" stroke-width="1.0"/>
<line x1="264.50" y1="133.80" x2="264.50" y2="162.30" stroke="#555" stroke-width="1.0"/>
<line x1="257.10" y1="149.30" x2="271.90" y2="149.30" stroke="#333" stroke-width="1.5"/>
<line x1="260.70" y1="133.50" x2="268.30" y2="133.50" stroke="#222" stroke-width="1.0"/>
<line x1="260.70" y1="162.50" x2="268.30" y2="162.50" stroke="#222" stroke-width="1.0"/>
<text x="319.60" y="13.40" font-size="17" text-anchor="start" textLength="9.5" lengthAdjust="spacingAndGlyphs" fill="#231f20">B</text>
<line x1="354.50" y1="33.10" x2="354.50" y2="226.30" stroke="#231f20" stroke-width="1.0"/>
<line x1="330.00" y1="202.30" x2="524.00" y2="202.30" stroke="#231f20" stroke-width="1.0"/>
<line x1="349.00" y1="154.00" x2="354.50" y2="154.00" stroke="#231f20" stroke-width="1.0"/>
<text x="346.30" y="157.80" font-size="11.3" text-anchor="end" fill="#231f20">1</text>
<line x1="402.80" y1="202.30" x2="402.80" y2="207.50" stroke="#231f20" stroke-width="1.0"/>
<text x="402.80" y="222.30" font-size="11.3" text-anchor="middle" fill="#231f20">1</text>
<line x1="349.00" y1="105.70" x2="354.50" y2="105.70" stroke="#231f20" stroke-width="1.0"/>
<text x="346.30" y="109.50" font-size="11.3" text-anchor="end" fill="#231f20">2</text>
<line x1="451.10" y1="202.30" x2="451.10" y2="207.50" stroke="#231f20" stroke-width="1.0"/>
<text x="451.10" y="222.30" font-size="11.3" text-anchor="middle" fill="#231f20">2</text>
<line x1="349.00" y1="57.40" x2="354.50" y2="57.40" stroke="#231f20" stroke-width="1.0"/>
<text x="346.30" y="61.20" font-size="11.3" text-anchor="end" fill="#231f20">3</text>
<line x1="499.40" y1="202.30" x2="499.40" y2="207.50" stroke="#231f20" stroke-width="1.0"/>
<text x="499.40" y="222.30" font-size="11.3" text-anchor="middle" fill="#231f20">3</text>
<line x1="330.00" y1="147.50" x2="524.00" y2="147.50" stroke="#777" stroke-width="1.0" stroke-dasharray="1,1"/>
<line x1="425.50" y1="33.00" x2="425.50" y2="225.00" stroke="#777" stroke-width="1.0" stroke-dasharray="1,1"/>
<line x1="354.50" y1="69.60" x2="488.20" y2="202.30" stroke="#111" stroke-width="1.1" stroke-dasharray="1.3,1.9"/>
<line x1="354.50" y1="49.10" x2="507.30" y2="202.30" stroke="#111" stroke-width="1.1" stroke-dasharray="2.2,4.5"/>
<text transform="translate(329.30,129.80) rotate(-90)" font-size="11.3" text-anchor="middle" textLength="68.2" lengthAdjust="spacingAndGlyphs" fill="#231f20">Anti-RBD IgG</text>
<text x="425.20" y="240.30" font-size="11.3" text-anchor="middle" textLength="52.2" lengthAdjust="spacingAndGlyphs" fill="#231f20">Anti-N IgG</text>
<text transform="translate(411.80,77.00) rotate(-90)" font-size="10.3" text-anchor="start" textLength="52.8" lengthAdjust="spacingAndGlyphs" fill="#231f20">Mean anti-N</text>
<text transform="translate(423.80,77.00) rotate(-90)" font-size="10.3" text-anchor="start" textLength="26.4" lengthAdjust="spacingAndGlyphs" fill="#231f20">+1 SD</text>
<text x="466.70" y="131.70" font-size="10.2" text-anchor="start" textLength="64.8" lengthAdjust="spacingAndGlyphs" fill="#231f20">Mean anti-RBD</text>
<text x="466.70" y="143.50" font-size="10.2" text-anchor="start" textLength="28.7" lengthAdjust="spacingAndGlyphs" fill="#231f20">+ 1 SD</text>
<g fill="#3d4d9f"><circle cx="368.2" cy="123.9" r="1.45"/><circle cx="377.4" cy="128.6" r="1.45"/><circle cx="397.4" cy="142.1" r="1.45"/><circle cx="398.8" cy="144.4" r="1.45"/><circle cx="398.8" cy="148.5" r="1.45"/><circle cx="381.8" cy="151.7" r="1.45"/><circle cx="400.9" cy="151.7" r="1.45"/><circle cx="361.0" cy="196.4" r="1.45"/><circle cx="359.3" cy="204.4" r="1.45"/><circle cx="358.2" cy="208.6" r="1.45"/><circle cx="359.8" cy="211.7" r="1.45"/><circle cx="354.7" cy="215.8" r="1.45"/><circle cx="376.9" cy="208.2" r="1.45"/><circle cx="381.1" cy="204.0" r="1.45"/><circle cx="388.0" cy="205.0" r="1.45"/><circle cx="392.2" cy="214.4" r="1.45"/><circle cx="404.8" cy="205.8" r="1.45"/><circle cx="410.0" cy="208.6" r="1.45"/><circle cx="419.0" cy="128.0" r="1.45"/><circle cx="425.9" cy="125.8" r="1.45"/><circle cx="415.5" cy="132.8" r="1.45"/><circle cx="411.8" cy="138.8" r="1.45"/><circle cx="424.3" cy="134.6" r="1.45"/><circle cx="398.2" cy="142.9" r="1.45"/><circle cx="397.5" cy="141.5" r="1.45"/><circle cx="403.7" cy="145.7" r="1.45"/><circle cx="398.4" cy="148.9" r="1.45"/><circle cx="425.7" cy="126.0" r="1.45"/><circle cx="419.3" cy="128.2" r="1.45"/><circle cx="415.8" cy="132.6" r="1.45"/><circle cx="423.4" cy="134.3" r="1.45"/><circle cx="411.8" cy="138.6" r="1.45"/><circle cx="419.3" cy="137.8" r="1.45"/><circle cx="404.9" cy="145.6" r="1.45"/><circle cx="447.9" cy="192.6" r="1.45"/><circle cx="348.1" cy="214.4" r="1.45"/><circle cx="354.4" cy="215.6" r="1.45"/><circle cx="354.4" cy="204.0" r="1.45"/><circle cx="358.0" cy="208.0" r="1.45"/><circle cx="358.8" cy="211.9" r="1.45"/><circle cx="368.5" cy="181.2" r="1.45"/><circle cx="372.6" cy="179.8" r="1.45"/><circle cx="376.6" cy="178.5" r="1.45"/><circle cx="381.1" cy="178.9" r="1.45"/><circle cx="385.7" cy="179.8" r="1.45"/><circle cx="390.2" cy="180.3" r="1.45"/><circle cx="393.8" cy="178.9" r="1.45"/><circle cx="396.5" cy="179.8" r="1.45"/><circle cx="401.5" cy="181.6" r="1.45"/><circle cx="364.9" cy="183.4" r="1.45"/><circle cx="370.8" cy="184.3" r="1.45"/><circle cx="366.7" cy="186.6" r="1.45"/><circle cx="379.3" cy="184.3" r="1.45"/><circle cx="383.0" cy="185.2" r="1.45"/><circle cx="388.4" cy="183.4" r="1.45"/><circle cx="391.1" cy="185.2" r="1.45"/><circle cx="395.6" cy="184.3" r="1.45"/><circle cx="398.7" cy="185.7" r="1.45"/><circle cx="402.8" cy="184.8" r="1.45"/><circle cx="376.6" cy="187.0" r="1.45"/><circle cx="381.1" cy="187.9" r="1.45"/><circle cx="384.8" cy="189.7" r="1.45"/><circle cx="389.3" cy="187.0" r="1.45"/><circle cx="393.8" cy="189.3" r="1.45"/><circle cx="398.3" cy="187.9" r="1.45"/><circle cx="369.4" cy="189.3" r="1.45"/><circle cx="373.9" cy="189.7" r="1.45"/><circle cx="379.3" cy="190.2" r="1.45"/><circle cx="383.0" cy="190.6" r="1.45"/><circle cx="377.5" cy="192.4" r="1.45"/><circle cx="381.1" cy="192.9" r="1.45"/><circle cx="387.0" cy="192.4" r="1.45"/><circle cx="391.1" cy="191.5" r="1.45"/><circle cx="394.7" cy="192.9" r="1.45"/><circle cx="367.6" cy="194.7" r="1.45"/><circle cx="370.3" cy="194.2" r="1.45"/><circle cx="375.7" cy="194.7" r="1.45"/><circle cx="379.3" cy="195.6" r="1.45"/><circle cx="383.9" cy="196.0" r="1.45"/><circle cx="387.5" cy="197.4" r="1.45"/><circle cx="390.6" cy="197.0" r="1.45"/><circle cx="400.1" cy="193.8" r="1.45"/><circle cx="401.0" cy="196.0" r="1.45"/><circle cx="399.2" cy="197.4" r="1.45"/><circle cx="373.0" cy="197.0" r="1.45"/><circle cx="376.6" cy="197.9" r="1.45"/><circle cx="380.2" cy="198.8" r="1.45"/><circle cx="384.8" cy="200.1" r="1.45"/><circle cx="369.4" cy="201.0" r="1.45"/><circle cx="373.9" cy="200.6" r="1.45"/><circle cx="378.4" cy="201.5" r="1.45"/><circle cx="391.1" cy="199.7" r="1.45"/><circle cx="393.8" cy="201.9" r="1.45"/><circle cx="395.6" cy="202.4" r="1.45"/><circle cx="401.9" cy="198.8" r="1.45"/><circle cx="372.5" cy="152.9" r="1.45"/><circle cx="381.5" cy="152.0" r="1.45"/><circle cx="389.2" cy="152.5" r="1.45"/><circle cx="387.8" cy="155.6" r="1.45"/><circle cx="388.3" cy="160.1" r="1.45"/><circle cx="390.1" cy="160.6" r="1.45"/><circle cx="379.3" cy="163.3" r="1.45"/><circle cx="387.4" cy="164.2" r="1.45"/><circle cx="387.4" cy="165.5" r="1.45"/><circle cx="358.1" cy="166.9" r="1.45"/><circle cx="392.8" cy="161.0" r="1.45"/><circle cx="392.8" cy="166.9" r="1.45"/><circle cx="392.8" cy="169.6" r="1.45"/><circle cx="381.1" cy="173.7" r="1.45"/><circle cx="372.5" cy="175.5" r="1.45"/><circle cx="375.7" cy="176.8" r="1.45"/><circle cx="386.0" cy="175.9" r="1.45"/><circle cx="381.0" cy="176.8" r="1.45"/><circle cx="392.8" cy="173.7" r="1.45"/><circle cx="400.8" cy="152.5" r="1.45"/><circle cx="394.5" cy="161.0" r="1.45"/><circle cx="397.2" cy="165.5" r="1.45"/><circle cx="409.3" cy="161.9" r="1.45"/><circle cx="401.7" cy="168.2" r="1.45"/><circle cx="408.9" cy="166.9" r="1.45"/><circle cx="410.2" cy="170.5" r="1.45"/><circle cx="421.1" cy="168.1" r="1.45"/><circle cx="395.8" cy="173.7" r="1.45"/><circle cx="398.1" cy="175.0" r="1.45"/><circle cx="405.7" cy="173.7" r="1.45"/><circle cx="402.1" cy="175.9" r="1.45"/><circle cx="409.3" cy="176.4" r="1.45"/><circle cx="430.1" cy="177.7" r="1.45"/><circle cx="403.6" cy="180.7" r="1.45"/><circle cx="400.9" cy="183.0" r="1.45"/><circle cx="407.2" cy="182.1" r="1.45"/><circle cx="411.3" cy="179.4" r="1.45"/><circle cx="411.7" cy="180.7" r="1.45"/><circle cx="420.8" cy="180.3" r="1.45"/><circle cx="424.8" cy="179.8" r="1.45"/><circle cx="424.8" cy="182.1" r="1.45"/><circle cx="429.8" cy="178.5" r="1.45"/><circle cx="416.2" cy="184.3" r="1.45"/><circle cx="418.0" cy="183.9" r="1.45"/><circle cx="414.9" cy="186.1" r="1.45"/><circle cx="421.2" cy="186.6" r="1.45"/><circle cx="412.6" cy="187.5" r="1.45"/><circle cx="409.0" cy="188.4" r="1.45"/><circle cx="406.8" cy="190.2" r="1.45"/><circle cx="405.9" cy="191.5" r="1.45"/><circle cx="400.9" cy="193.8" r="1.45"/><circle cx="404.1" cy="194.7" r="1.45"/><circle cx="401.8" cy="197.4" r="1.45"/><circle cx="416.7" cy="192.9" r="1.45"/><circle cx="413.5" cy="195.6" r="1.45"/><circle cx="430.7" cy="201.0" r="1.45"/><circle cx="359.0" cy="195.2" r="1.45"/><circle cx="382.4" cy="176.8" r="1.45"/><circle cx="387.6" cy="179.1" r="1.45"/><circle cx="392.4" cy="181.3" r="1.45"/><circle cx="394.3" cy="180.4" r="1.45"/><circle cx="365.1" cy="181.6" r="1.45"/><circle cx="371.9" cy="186.0" r="1.45"/><circle cx="380.3" cy="185.8" r="1.45"/><circle cx="383.7" cy="187.0" r="1.45"/><circle cx="389.2" cy="185.3" r="1.45"/><circle cx="393.2" cy="184.8" r="1.45"/><circle cx="399.4" cy="187.8" r="1.45"/><circle cx="403.6" cy="186.3" r="1.45"/><circle cx="383.6" cy="191.3" r="1.45"/><circle cx="388.6" cy="185.1" r="1.45"/><circle cx="395.2" cy="187.7" r="1.45"/><circle cx="399.7" cy="186.0" r="1.45"/><circle cx="367.7" cy="187.5" r="1.45"/><circle cx="372.2" cy="190.5" r="1.45"/><circle cx="385.4" cy="194.2" r="1.45"/><circle cx="372.3" cy="193.5" r="1.45"/><circle cx="376.4" cy="196.3" r="1.45"/><circle cx="386.6" cy="199.3" r="1.45"/><circle cx="389.0" cy="198.9" r="1.45"/><circle cx="397.6" cy="193.3" r="1.45"/><circle cx="398.2" cy="199.1" r="1.45"/><circle cx="378.8" cy="200.2" r="1.45"/><circle cx="386.6" cy="199.0" r="1.45"/><circle cx="368.2" cy="202.5" r="1.45"/><circle cx="373.3" cy="199.1" r="1.45"/><circle cx="380.6" cy="202.4" r="1.45"/><circle cx="391.3" cy="201.3" r="1.45"/><circle cx="393.6" cy="199.6" r="1.45"/><circle cx="381.1" cy="162.4" r="1.45"/><circle cx="387.4" cy="161.7" r="1.45"/><circle cx="389.5" cy="166.9" r="1.45"/><circle cx="394.4" cy="170.2" r="1.45"/><circle cx="380.5" cy="171.5" r="1.45"/><circle cx="373.4" cy="177.0" r="1.45"/><circle cx="394.8" cy="173.4" r="1.45"/><circle cx="394.5" cy="162.8" r="1.45"/><circle cx="409.6" cy="168.5" r="1.45"/><circle cx="410.1" cy="168.8" r="1.45"/><circle cx="420.4" cy="166.6" r="1.45"/><circle cx="396.4" cy="171.6" r="1.45"/><circle cx="399.7" cy="173.5" r="1.45"/><circle cx="403.7" cy="175.2" r="1.45"/><circle cx="401.8" cy="184.8" r="1.45"/><circle cx="412.1" cy="177.1" r="1.45"/><circle cx="414.1" cy="180.8" r="1.45"/><circle cx="419.7" cy="178.4" r="1.45"/><circle cx="427.3" cy="181.5" r="1.45"/><circle cx="413.6" cy="187.4" r="1.45"/><circle cx="404.2" cy="192.8" r="1.45"/><circle cx="418.0" cy="191.3" r="1.45"/><circle cx="415.0" cy="194.8" r="1.45"/></g>
<path fill="#111" d="M391.5 72.6L393.6 68.8L395.8 72.6ZM370.6 81.0L372.8 77.2L374.9 81.0ZM397.2 92.0L399.4 88.2L401.5 92.0ZM377.2 96.8L379.4 93.0L381.5 96.8ZM405.0 101.0L407.1 97.2L409.2 101.0ZM391.1 105.1L393.2 101.3L395.3 105.1ZM386.2 110.8L388.4 107.0L390.5 110.8ZM388.4 113.5L390.5 109.7L392.6 113.5ZM401.5 112.2L403.6 108.4L405.8 112.2ZM398.8 117.6L400.9 113.8L403.0 117.6ZM453.6 95.1L455.7 91.3L457.8 95.1ZM438.9 117.0L441.0 113.2L443.1 117.0ZM417.7 116.0L419.8 112.2L421.9 116.0ZM383.7 125.7L385.8 121.9L387.9 125.7ZM385.8 131.8L387.9 128.0L390.0 131.8ZM398.8 137.8L400.9 134.0L403.0 137.8ZM387.5 113.5L389.6 109.7L391.8 113.5ZM398.4 117.0L400.5 113.2L402.6 117.0ZM393.2 147.4L395.3 143.6L397.4 147.4ZM417.9 116.1L420.0 112.3L422.1 116.1ZM439.2 117.4L441.3 113.6L443.4 117.4ZM421.9 123.6L424.0 119.8L426.1 123.6ZM409.2 132.6L411.3 128.8L413.4 132.6ZM421.2 135.2L423.4 131.4L425.5 135.2ZM407.9 137.8L410.0 134.0L412.1 137.8ZM418.4 145.7L420.5 141.9L422.6 145.7ZM414.1 147.4L416.2 143.6L418.3 147.4ZM404.5 149.6L406.6 145.8L408.8 149.6ZM429.7 149.6L431.8 145.8L433.9 149.6ZM413.7 152.6L415.8 148.8L417.9 152.6ZM421.2 152.6L423.4 148.8L425.5 152.6ZM457.6 145.4L459.7 141.6L461.8 145.4ZM372.4 221.8L374.5 218.0L376.6 221.8ZM406.9 206.2L409.0 202.4L411.1 206.2ZM434.4 163.9L436.5 160.1L438.6 163.9ZM445.1 163.5L447.2 159.7L449.3 163.5ZM434.9 175.7L437.0 171.9L439.1 175.7ZM445.8 180.6L447.9 176.7L450.0 180.6ZM450.6 179.2L452.8 175.4L454.9 179.2ZM446.5 183.8L448.6 180.0L450.8 183.8ZM443.0 191.0L445.1 187.2L447.2 191.0ZM449.2 191.7L451.4 187.9L453.5 191.7ZM404.7 123.9L406.8 120.1L408.9 123.9ZM421.8 123.5L423.9 119.7L426.0 123.5ZM409.2 132.2L411.4 128.4L413.5 132.2ZM421.1 135.0L423.2 131.2L425.3 135.0ZM398.6 138.2L400.7 134.4L402.8 138.2ZM407.5 137.8L409.6 134.0L411.8 137.8ZM414.1 133.6L416.2 129.8L418.3 133.6ZM417.6 139.2L419.7 135.4L421.8 139.2ZM393.6 147.5L395.7 143.7L397.8 147.5ZM404.4 149.6L406.5 145.8L408.6 149.6ZM413.4 147.5L415.5 143.7L417.6 147.5ZM418.2 146.1L420.4 142.3L422.5 146.1ZM429.4 150.3L431.5 146.5L433.6 150.3ZM412.7 152.4L414.8 148.6L416.9 152.4ZM421.1 152.4L423.2 148.6L425.3 152.4ZM439.2 117.1L441.4 113.3L443.5 117.1ZM455.4 110.4L457.5 106.6L459.6 110.4ZM383.6 188.4L385.7 184.6L387.8 188.4ZM368.7 201.5L370.8 197.7L372.9 201.5ZM392.1 180.3L394.2 176.5L396.3 180.3ZM405.4 157.4L407.5 153.6L409.6 157.4ZM409.9 156.5L412.0 152.7L414.1 156.5ZM411.8 155.6L413.9 151.8L416.0 155.6ZM417.2 155.6L419.3 151.8L421.4 155.6ZM420.8 154.7L422.9 150.9L425.0 154.7ZM415.8 159.7L417.9 155.9L420.0 159.7ZM418.1 161.0L420.2 157.2L422.3 161.0ZM426.2 161.0L428.3 157.2L430.4 161.0ZM429.4 154.7L431.5 150.9L433.6 154.7ZM403.2 165.1L405.3 161.3L407.4 165.1ZM409.5 164.2L411.6 160.4L413.8 164.2ZM400.9 168.2L403.0 164.4L405.1 168.2ZM395.5 170.0L397.6 166.2L399.8 170.0ZM400.5 171.8L402.6 168.0L404.8 171.8ZM413.1 170.5L415.2 166.7L417.3 170.5ZM406.2 175.5L408.4 171.7L410.5 175.5ZM398.2 177.7L400.3 173.9L402.4 177.7ZM411.2 177.3L413.4 173.5L415.5 177.3ZM426.6 175.5L428.7 171.7L430.8 175.5ZM430.7 170.9L432.8 167.1L434.9 170.9ZM402.0 186.1L404.1 182.3L406.2 186.1ZM411.4 190.6L413.5 186.8L415.6 190.6ZM425.9 193.3L428.0 189.5L430.1 193.3ZM425.0 197.4L427.1 193.6L429.2 197.4ZM414.6 198.3L416.7 194.5L418.8 198.3ZM411.0 198.3L413.1 194.5L415.2 198.3ZM434.0 182.1L436.1 178.3L438.2 182.1Z"/>
<circle cx="457.5" cy="108.6" r="4.2" fill="none" stroke="#111" stroke-width="1"/>
<path fill="#e3261c" d="M480.4 50.2L482.3 52.1L480.4 54.0L478.5 52.1ZM479.7 52.0L481.6 53.9L479.7 55.8L477.8 53.9ZM476.2 55.0L478.1 56.9L476.2 58.8L474.4 56.9ZM474.4 57.5L476.3 59.4L474.4 61.3L472.5 59.4ZM479.0 63.7L480.9 65.6L479.0 67.5L477.1 65.6ZM483.2 61.3L485.1 63.2L483.2 65.1L481.3 63.2ZM484.6 64.8L486.5 66.7L484.6 68.6L482.7 66.7ZM476.9 72.4L478.8 74.3L476.9 76.2L475.0 74.3ZM479.0 71.7L480.9 73.6L479.0 75.5L477.1 73.6ZM481.1 73.8L483.0 75.7L481.1 77.6L479.2 75.7ZM484.6 72.4L486.5 74.3L484.6 76.2L482.7 74.3ZM474.9 73.8L476.8 75.7L474.9 77.6L473.0 75.7ZM472.0 76.6L473.9 78.5L472.0 80.4L470.1 78.5ZM477.6 77.3L479.5 79.2L477.6 81.1L475.7 79.2ZM479.7 80.1L481.6 82.0L479.7 83.9L477.8 82.0ZM484.6 81.1L486.5 83.0L484.6 84.9L482.7 83.0ZM476.2 81.4L478.1 83.3L476.2 85.2L474.4 83.3ZM474.9 84.9L476.8 86.8L474.9 88.7L473.0 86.8ZM478.2 74.6L480.1 76.5L478.2 78.4L476.3 76.5ZM482.5 70.3L484.4 72.2L482.5 74.1L480.6 72.2ZM476.0 75.1L477.9 77.0L476.0 78.9L474.1 77.0ZM445.2 61.6L447.1 63.5L445.2 65.4L443.4 63.5ZM462.5 66.4L464.4 68.3L462.5 70.2L460.6 68.3ZM458.2 77.3L460.1 79.2L458.2 81.1L456.3 79.2ZM465.7 77.3L467.6 79.2L465.7 81.1L463.8 79.2ZM471.3 76.8L473.2 78.8L471.3 80.7L469.4 78.8ZM468.6 83.5L470.5 85.4L468.6 87.3L466.7 85.4ZM447.8 85.2L449.6 87.1L447.8 89.0L445.9 87.1ZM437.3 87.3L439.2 89.2L437.3 91.1L435.4 89.2ZM459.4 90.4L461.3 92.3L459.4 94.2L457.5 92.3ZM440.0 103.5L441.9 105.4L440.0 107.3L438.1 105.4ZM454.0 100.8L455.9 102.7L454.0 104.6L452.1 102.7ZM464.6 105.0L466.5 106.9L464.6 108.8L462.7 106.9ZM409.2 96.6L411.1 98.5L409.2 100.4L407.3 98.5ZM457.5 122.0L459.4 123.9L457.5 125.8L455.6 123.9ZM439.6 149.3L441.5 151.2L439.6 153.2L437.7 151.2ZM468.2 83.8L470.1 85.7L468.2 87.6L466.3 85.7Z"/>
<circle cx="332.7" cy="256.1" r="1.3" fill="#3d4d9f"/>
<text x="340.30" y="260.20" font-size="11.3" text-anchor="start" textLength="40.5" lengthAdjust="spacingAndGlyphs" fill="#231f20">pre-2020</text>
<path fill="#e3261c" d="M332.7 272.0L334.5 273.8L332.7 275.6L330.9 273.8Z"/>
<text x="340.30" y="277.20" font-size="11.3" text-anchor="start" textLength="69.7" lengthAdjust="spacingAndGlyphs" fill="#231f20">SARS-CoV-2+</text>
<path fill="#111" d="M430.3 260.2L432.8 255.7L435.3 260.2Z"/>
<text x="441.20" y="261.20" font-size="11.3" text-anchor="start" textLength="77.8" lengthAdjust="spacingAndGlyphs" fill="#231f20">Unknowns (high)</text>
<text x="541.50" y="13.30" font-size="17" text-anchor="start" textLength="11.0" lengthAdjust="spacingAndGlyphs" fill="#231f20">C</text>
<line x1="587.70" y1="37.50" x2="587.70" y2="207.50" stroke="#8a8a8a" stroke-width="1.1"/>
<line x1="581.40" y1="201.30" x2="760.00" y2="201.30" stroke="#231f20" stroke-width="1.0"/>
<line x1="751.60" y1="37.50" x2="751.60" y2="207.50" stroke="#8a8a8a" stroke-width="1.1"/>
<line x1="582.00" y1="201.30" x2="587.50" y2="201.30" stroke="#231f20" stroke-width="1.0"/>
<text x="577.00" y="205.10" font-size="11.3" text-anchor="end" fill="#231f20">0.0</text>
<line x1="582.00" y1="160.35" x2="587.50" y2="160.35" stroke="#231f20" stroke-width="1.0"/>
<text x="577.00" y="164.15" font-size="11.3" text-anchor="end" fill="#231f20">0.1</text>
<line x1="582.00" y1="119.40" x2="587.50" y2="119.40" stroke="#231f20" stroke-width="1.0"/>
<text x="577.00" y="123.20" font-size="11.3" text-anchor="end" fill="#231f20">0.2</text>
<line x1="582.00" y1="78.45" x2="587.50" y2="78.45" stroke="#231f20" stroke-width="1.0"/>
<text x="577.00" y="82.25" font-size="11.3" text-anchor="end" fill="#231f20">0.3</text>
<line x1="582.00" y1="37.50" x2="587.50" y2="37.50" stroke="#231f20" stroke-width="1.0"/>
<text x="577.00" y="41.30" font-size="11.3" text-anchor="end" fill="#231f20">0.4</text>
<line x1="588.00" y1="201.30" x2="588.00" y2="207.00" stroke="#231f20" stroke-width="1.0"/>
<text x="588.00" y="221.80" font-size="11.3" text-anchor="middle" fill="#231f20">0</text>
<line x1="642.40" y1="201.30" x2="642.40" y2="207.00" stroke="#231f20" stroke-width="1.0"/>
<text x="642.40" y="221.80" font-size="11.3" text-anchor="middle" fill="#231f20">1</text>
<line x1="696.80" y1="201.30" x2="696.80" y2="207.00" stroke="#231f20" stroke-width="1.0"/>
<text x="696.80" y="221.80" font-size="11.3" text-anchor="middle" fill="#231f20">2</text>
<line x1="751.20" y1="201.30" x2="751.20" y2="207.00" stroke="#231f20" stroke-width="1.0"/>
<text x="751.20" y="221.80" font-size="11.3" text-anchor="middle" fill="#231f20">3</text>
<line x1="751.50" y1="201.30" x2="759.80" y2="201.30" stroke="#231f20" stroke-width="1.0"/>
<line x1="751.50" y1="184.92" x2="756.00" y2="184.92" stroke="#231f20" stroke-width="1.0"/>
<line x1="751.50" y1="168.54" x2="756.00" y2="168.54" stroke="#231f20" stroke-width="1.0"/>
<line x1="751.50" y1="152.16" x2="756.00" y2="152.16" stroke="#231f20" stroke-width="1.0"/>
<line x1="751.50" y1="135.78" x2="756.00" y2="135.78" stroke="#231f20" stroke-width="1.0"/>
<line x1="751.50" y1="119.40" x2="759.80" y2="119.40" stroke="#231f20" stroke-width="1.0"/>
<line x1="751.50" y1="103.02" x2="756.00" y2="103.02" stroke="#231f20" stroke-width="1.0"/>
<line x1="751.50" y1="86.64" x2="756.00" y2="86.64" stroke="#231f20" stroke-width="1.0"/>
<line x1="751.50" y1="70.26" x2="756.00" y2="70.26" stroke="#231f20" stroke-width="1.0"/>
<line x1="751.50" y1="53.88" x2="756.00" y2="53.88" stroke="#231f20" stroke-width="1.0"/>
<line x1="751.50" y1="37.50" x2="759.80" y2="37.50" stroke="#231f20" stroke-width="1.0"/>
<text x="765.00" y="41.30" font-size="11.3" text-anchor="start" fill="#231f20">1.0</text>
<text x="765.00" y="123.20" font-size="11.3" text-anchor="start" fill="#231f20">0.5</text>
<text x="765.00" y="205.10" font-size="11.3" text-anchor="start" fill="#231f20">0.0</text>
<text transform="translate(553.00,120.70) rotate(-90)" font-size="11.3" text-anchor="middle" textLength="87.4" lengthAdjust="spacingAndGlyphs" fill="#231f20">Relative Frequency</text>
<text transform="translate(790.80,119.90) rotate(90)" font-size="11.3" text-anchor="middle" textLength="131.0" lengthAdjust="spacingAndGlyphs" fill="#231f20">Probability of being positive</text>
<text x="669.80" y="235.50" font-size="11.3" text-anchor="middle" textLength="160.5" lengthAdjust="spacingAndGlyphs" fill="#231f20">Mean (anti-RBD IgG; anti-N IgG)</text>
<path fill="#3d4d9f" d="M589.40 189.42h3.1V201.3h-3.1ZM600.25 114.49h3.1V201.3h-3.1ZM611.10 67.80h3.1V201.3h-3.1ZM621.95 109.98h3.1V201.3h-3.1ZM632.80 149.70h3.1V201.3h-3.1ZM643.65 180.01h3.1V201.3h-3.1ZM654.50 193.93h3.1V201.3h-3.1ZM665.35 193.93h3.1V201.3h-3.1Z"/>
<path fill="#111" d="M592.50 195.98h3.1V201.3h-3.1ZM603.35 191.06h3.1V201.3h-3.1ZM614.20 191.06h3.1V201.3h-3.1ZM625.05 170.59h3.1V201.3h-3.1ZM635.90 145.20h3.1V201.3h-3.1ZM646.75 83.36h3.1V201.3h-3.1ZM657.60 98.93h3.1V201.3h-3.1ZM668.45 171.00h3.1V201.3h-3.1ZM679.30 175.50h3.1V201.3h-3.1ZM690.15 191.06h3.1V201.3h-3.1ZM701.00 191.06h3.1V201.3h-3.1Z"/>
<path fill="#e3261c" d="M671.55 191.06h3.1V201.3h-3.1ZM682.40 191.06h3.1V201.3h-3.1ZM693.25 182.05h3.1V201.3h-3.1ZM704.10 162.40h3.1V201.3h-3.1ZM714.95 162.40h3.1V201.3h-3.1ZM725.80 37.50h3.1V201.3h-3.1ZM736.65 94.22h3.1V201.3h-3.1ZM747.50 181.64h3.1V201.3h-3.1Z"/>
<polyline fill="none" stroke="#111" stroke-width="0.9" points="588.00,201.30 588.54,201.30 589.09,201.30 589.63,201.30 590.18,201.30 590.72,201.30 591.26,201.30 591.81,201.30 592.35,201.30 592.90,201.30 593.44,201.30 593.98,201.30 594.53,201.30 595.07,201.30 595.62,201.30 596.16,201.30 596.70,201.30 597.25,201.30 597.79,201.30 598.34,201.30 598.88,201.30 599.42,201.30 599.97,201.30 600.51,201.30 601.06,201.30 601.60,201.30 602.14,201.30 602.69,201.30 603.23,201.30 603.78,201.30 604.32,201.30 604.86,201.30 605.41,201.30 605.95,201.30 606.50,201.30 607.04,201.30 607.58,201.30 608.13,201.30 608.67,201.30 609.22,201.30 609.76,201.30 610.30,201.30 610.85,201.30 611.39,201.30 611.94,201.30 612.48,201.30 613.02,201.30 613.57,201.29 614.11,201.29 614.66,201.29 615.20,201.29 615.74,201.29 616.29,201.29 616.83,201.29 617.38,201.29 617.92,201.29 618.46,201.29 619.01,201.29 619.55,201.29 620.10,201.29 620.64,201.28 621.18,201.28 621.73,201.28 622.27,201.28 622.82,201.28 623.36,201.27 623.90,201.27 624.45,201.27 624.99,201.27 625.54,201.26 626.08,201.26 626.62,201.26 627.17,201.25 627.71,201.25 628.26,201.25 628.80,201.24 629.34,201.23 629.89,201.23 630.43,201.22 630.98,201.22 631.52,201.21 632.06,201.20 632.61,201.19 633.15,201.18 633.70,201.17 634.24,201.16 634.78,201.14 635.33,201.13 635.87,201.12 636.42,201.10 636.96,201.08 637.50,201.06 638.05,201.04 638.59,201.01 639.14,200.99 639.68,200.96 640.22,200.93 640.77,200.90 641.31,200.86 641.86,200.82 642.40,200.78 642.94,200.73 643.49,200.68 644.03,200.62 644.58,200.56 645.12,200.49 645.66,200.42 646.21,200.34 646.75,200.25 647.30,200.16 647.84,200.06 648.38,199.94 648.93,199.82 649.47,199.69 650.02,199.54 650.56,199.38 651.10,199.21 651.65,199.03 652.19,198.82 652.74,198.60 653.28,198.36 653.82,198.10 654.37,197.81 654.91,197.50 655.46,197.17 656.00,196.80 656.54,196.40 657.09,195.97 657.63,195.51 658.18,195.00 658.72,194.45 659.26,193.86 659.81,193.21 660.35,192.52 660.90,191.77 661.44,190.96 661.98,190.08 662.53,189.14 663.07,188.12 663.62,187.03 664.16,185.85 664.70,184.59 665.25,183.24 665.79,181.79 666.34,180.25 666.88,178.60 667.42,176.84 667.97,174.98 668.51,173.00 669.06,170.90 669.60,168.69 670.14,166.36 670.69,163.91 671.23,161.34 671.78,158.65 672.32,155.85 672.86,152.94 673.41,149.92 673.95,146.80 674.50,143.60 675.04,140.30 675.58,136.94 676.13,133.51 676.67,130.03 677.22,126.51 677.76,122.96 678.30,119.40 678.85,115.84 679.39,112.29 679.94,108.77 680.48,105.29 681.02,101.86 681.57,98.50 682.11,95.20 682.66,92.00 683.20,88.88 683.74,85.86 684.29,82.95 684.83,80.15 685.38,77.46 685.92,74.89 686.46,72.44 687.01,70.11 687.55,67.90 688.10,65.80 688.64,63.82 689.18,61.96 689.73,60.20 690.27,58.55 690.82,57.01 691.36,55.56 691.90,54.21 692.45,52.95 692.99,51.77 693.54,50.68 694.08,49.66 694.62,48.72 695.17,47.84 695.71,47.03 696.26,46.28 696.80,45.59 697.34,44.94 697.89,44.35 698.43,43.80 698.98,43.29 699.52,42.83 700.06,42.40 700.61,42.00 701.15,41.63 701.70,41.30 702.24,40.99 702.78,40.70 703.33,40.44 703.87,40.20 704.42,39.98 704.96,39.77 705.50,39.59 706.05,39.42 706.59,39.26 707.14,39.11 707.68,38.98 708.22,38.86 708.77,38.74 709.31,38.64 709.86,38.55 710.40,38.46 710.94,38.38 711.49,38.31 712.03,38.24 712.58,38.18 713.12,38.12 713.66,38.07 714.21,38.02 714.75,37.98 715.30,37.94 715.84,37.90 716.38,37.87 716.93,37.84 717.47,37.81 718.02,37.79 718.56,37.76 719.10,37.74 719.65,37.72 720.19,37.70 720.74,37.68 721.28,37.67 721.82,37.66 722.37,37.64 722.91,37.63 723.46,37.62 724.00,37.61 724.54,37.60 725.09,37.59 725.63,37.58 726.18,37.58 726.72,37.57 727.26,37.57 727.81,37.56 728.35,37.55 728.90,37.55 729.44,37.55 729.98,37.54 730.53,37.54 731.07,37.54 731.62,37.53 732.16,37.53 732.70,37.53 733.25,37.53 733.79,37.52 734.34,37.52 734.88,37.52 735.42,37.52 735.97,37.52 736.51,37.51 737.06,37.51 737.60,37.51 738.14,37.51 738.69,37.51 739.23,37.51 739.78,37.51 740.32,37.51 740.86,37.51 741.41,37.51 741.95,37.51 742.50,37.51 743.04,37.51 743.58,37.50 744.13,37.50 744.67,37.50 745.22,37.50 745.76,37.50 746.30,37.50 746.85,37.50 747.39,37.50 747.94,37.50 748.48,37.50 749.02,37.50 749.57,37.50 750.11,37.50 750.66,37.50 751.20,37.50"/>
<rect x="570.8" y="250.8" width="12.2" height="6.2" fill="#3d4d9f"/>
<rect x="570.8" y="266.3" width="12.2" height="6.2" fill="#e3261c"/>
<rect x="681.25" y="250.5" width="12.5" height="6.5" fill="#111"/>
<text x="588.00" y="257.50" font-size="11.3" text-anchor="start" textLength="40.0" lengthAdjust="spacingAndGlyphs" fill="#231f20">pre-2020</text>
<text x="588.00" y="272.50" font-size="11.3" text-anchor="start" textLength="69.7" lengthAdjust="spacingAndGlyphs" fill="#231f20">SARS-CoV-2+</text>
<text x="698.75" y="257.50" font-size="11.3" text-anchor="start" textLength="77.5" lengthAdjust="spacingAndGlyphs" fill="#231f20">Unknowns (high)</text>
</svg></body></html>
